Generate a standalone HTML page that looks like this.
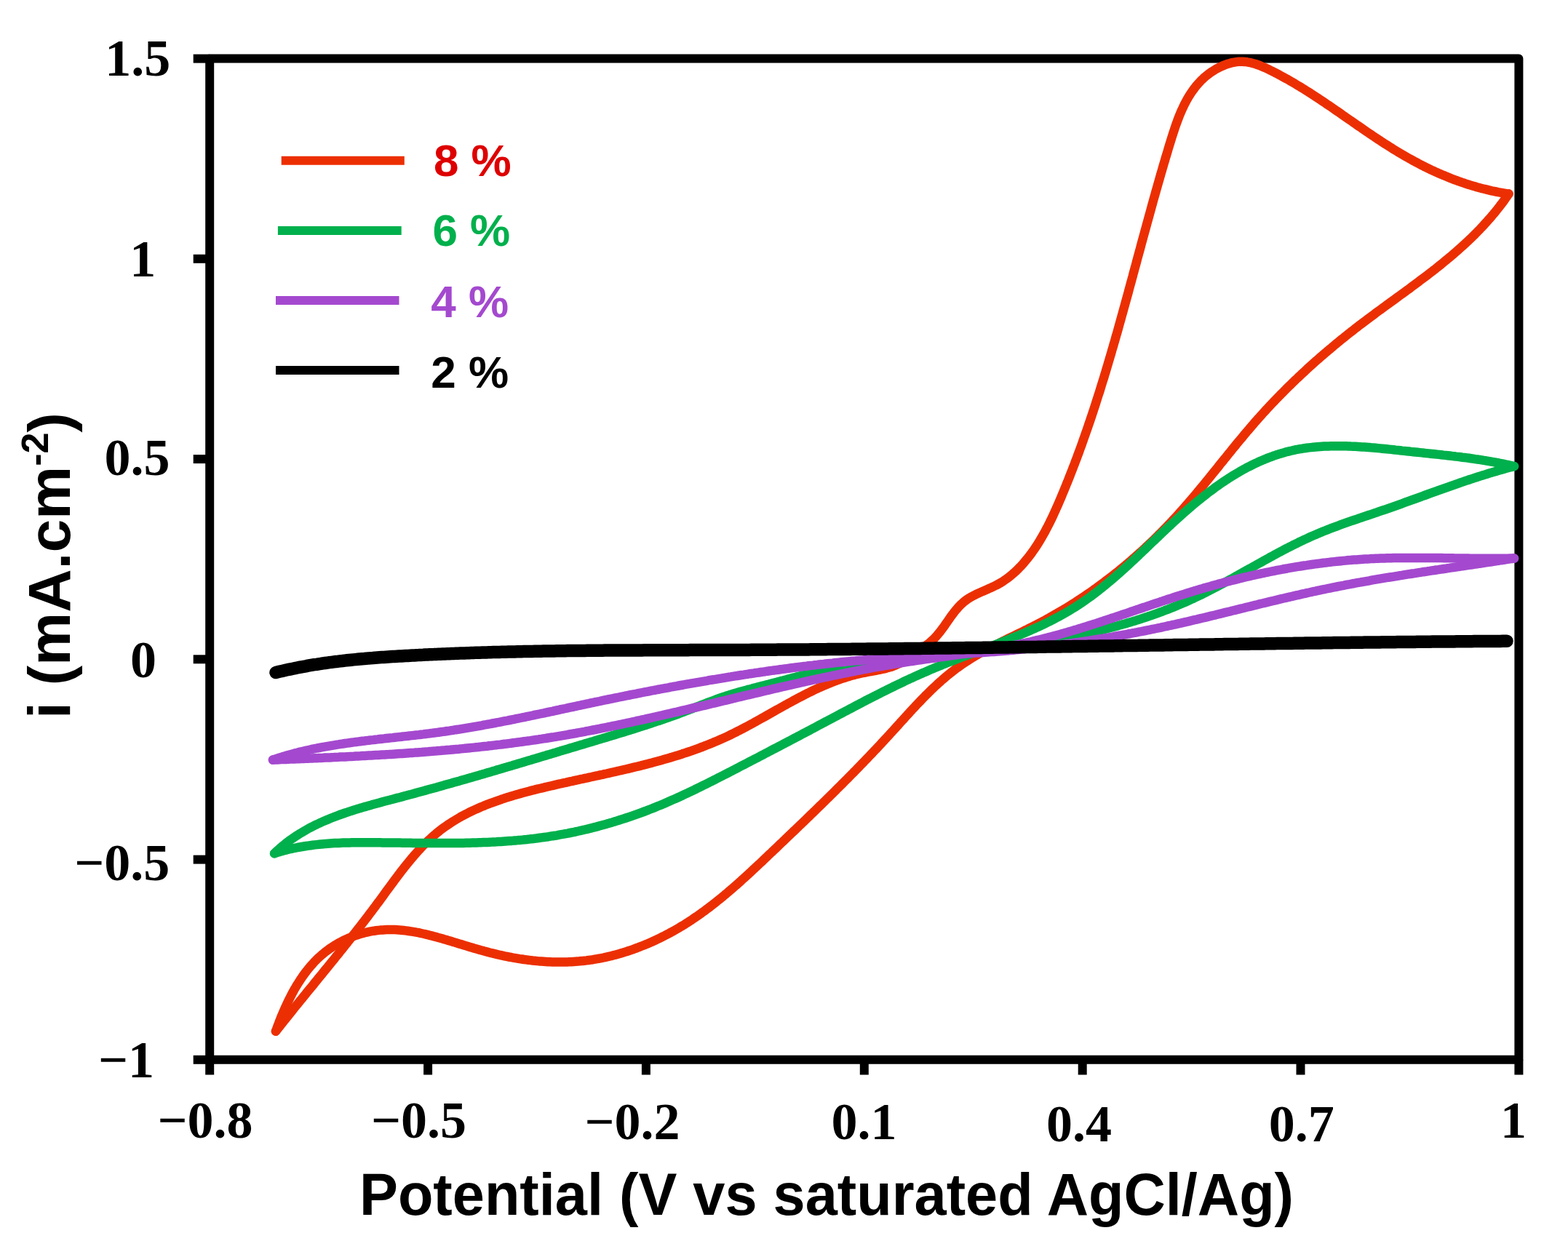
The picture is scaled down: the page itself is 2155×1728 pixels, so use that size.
<!DOCTYPE html>
<html><head><meta charset="utf-8"><title>Cyclic voltammetry</title>
<style>html,body{margin:0;padding:0;background:#fff;}svg{display:block;}</style>
</head><body>
<svg xmlns="http://www.w3.org/2000/svg" width="2155" height="1728" viewBox="0 0 2155 1728">
<rect width="2155" height="1728" fill="#ffffff"/>
<rect x="288.2" y="80.6" width="1799.2" height="1376.2" fill="none" stroke="#000" stroke-width="12" stroke-linejoin="round"/>
<line x1="265.7" y1="80.6" x2="288.2" y2="80.6" stroke="#000" stroke-width="12"/>
<line x1="265.7" y1="355.8" x2="288.2" y2="355.8" stroke="#000" stroke-width="12"/>
<line x1="265.7" y1="631.1" x2="288.2" y2="631.1" stroke="#000" stroke-width="12"/>
<line x1="265.7" y1="906.3" x2="288.2" y2="906.3" stroke="#000" stroke-width="12"/>
<line x1="265.7" y1="1181.6" x2="288.2" y2="1181.6" stroke="#000" stroke-width="12"/>
<line x1="265.7" y1="1456.8" x2="288.2" y2="1456.8" stroke="#000" stroke-width="12"/>
<line x1="288.2" y1="1456.8" x2="288.2" y2="1477.5" stroke="#000" stroke-width="12"/>
<line x1="588.1" y1="1456.8" x2="588.1" y2="1477.5" stroke="#000" stroke-width="12"/>
<line x1="887.9" y1="1456.8" x2="887.9" y2="1477.5" stroke="#000" stroke-width="12"/>
<line x1="1187.8" y1="1456.8" x2="1187.8" y2="1477.5" stroke="#000" stroke-width="12"/>
<line x1="1487.7" y1="1456.8" x2="1487.7" y2="1477.5" stroke="#000" stroke-width="12"/>
<line x1="1787.5" y1="1456.8" x2="1787.5" y2="1477.5" stroke="#000" stroke-width="12"/>
<line x1="2087.4" y1="1456.8" x2="2087.4" y2="1477.5" stroke="#000" stroke-width="12"/>
<g>
<path d="M379.0,1417.7 L380.9,1415.3 L382.8,1412.9 L384.7,1410.5 L386.5,1408.2 L388.4,1405.8 L390.3,1403.4 L392.2,1401.0 L394.1,1398.7 L396.0,1396.3 L397.9,1394.0 L399.8,1391.6 L401.6,1389.3 L403.5,1386.9 L405.4,1384.6 L407.3,1382.2 L409.2,1379.9 L411.1,1377.6 L413.0,1375.2 L414.9,1372.9 L416.8,1370.6 L418.7,1368.3 L420.5,1365.9 L422.4,1363.6 L424.3,1361.3 L426.2,1359.0 L428.1,1356.7 L430.0,1354.4 L431.9,1352.0 L433.7,1349.7 L435.6,1347.4 L437.5,1345.1 L439.4,1342.8 L441.3,1340.5 L443.2,1338.2 L445.0,1335.9 L446.9,1333.5 L448.8,1331.2 L450.7,1328.9 L452.6,1326.6 L454.4,1324.3 L456.3,1322.0 L458.2,1319.7 L460.1,1317.3 L461.9,1315.0 L463.8,1312.7 L465.7,1310.4 L467.5,1308.0 L469.4,1305.7 L471.3,1303.4 L473.1,1301.1 L475.0,1298.7 L476.9,1296.4 L478.7,1294.0 L480.6,1291.7 L482.4,1289.4 L484.3,1287.0 L486.1,1284.7 L488.0,1282.3 L489.8,1279.9 L491.7,1277.6 L493.5,1275.2 L495.4,1272.8 L497.2,1270.4 L499.1,1268.1 L500.9,1265.7 L502.7,1263.3 L504.6,1260.9 L506.4,1258.5 L508.2,1256.1 L510.0,1253.7 L511.9,1251.2 L513.7,1248.8 L515.5,1246.4 L517.3,1243.9 L519.1,1241.5 L521.0,1239.1 L522.8,1236.6 L524.6,1234.1 L526.4,1231.7 L528.2,1229.2 L530.0,1226.7 L531.8,1224.2 L533.6,1221.8 L535.4,1219.3 L537.2,1216.8 L539.0,1214.4 L540.9,1211.9 L542.7,1209.4 L544.5,1207.0 L546.4,1204.5 L548.2,1202.1 L550.1,1199.7 L551.9,1197.2 L553.8,1194.8 L555.7,1192.4 L557.6,1190.1 L559.5,1187.7 L561.4,1185.3 L563.3,1183.0 L565.2,1180.7 L567.2,1178.4 L569.1,1176.1 L571.1,1173.8 L573.1,1171.6 L575.1,1169.4 L577.1,1167.2 L579.2,1165.0 L581.3,1162.8 L583.3,1160.7 L585.4,1158.6 L587.6,1156.6 L589.7,1154.5 L591.9,1152.5 L594.0,1150.6 L596.2,1148.6 L598.5,1146.7 L600.7,1144.8 L603.0,1143.0 L605.3,1141.2 L607.6,1139.4 L610.0,1137.7 L612.4,1136.0 L614.8,1134.3 L617.2,1132.7 L619.6,1131.1 L622.1,1129.5 L624.6,1128.0 L627.1,1126.5 L629.6,1125.0 L632.1,1123.5 L634.7,1122.1 L637.3,1120.7 L639.9,1119.3 L642.5,1118.0 L645.1,1116.7 L647.7,1115.4 L650.4,1114.1 L653.1,1112.9 L655.8,1111.7 L658.5,1110.5 L661.2,1109.3 L664.0,1108.2 L666.7,1107.0 L669.5,1105.9 L672.3,1104.9 L675.1,1103.8 L677.9,1102.8 L680.7,1101.8 L683.5,1100.8 L686.4,1099.8 L689.2,1098.8 L692.1,1097.9 L694.9,1096.9 L697.8,1096.0 L700.7,1095.1 L703.6,1094.3 L706.5,1093.4 L709.4,1092.5 L712.3,1091.7 L715.3,1090.9 L718.2,1090.1 L721.1,1089.3 L724.1,1088.5 L727.0,1087.7 L730.0,1086.9 L732.9,1086.2 L735.9,1085.4 L738.8,1084.7 L741.8,1084.0 L744.8,1083.3 L747.7,1082.6 L750.7,1081.8 L753.7,1081.2 L756.7,1080.5 L759.6,1079.8 L762.6,1079.1 L765.6,1078.4 L768.6,1077.7 L771.5,1077.1 L774.5,1076.4 L777.5,1075.8 L780.4,1075.1 L783.4,1074.4 L786.4,1073.8 L789.3,1073.1 L792.3,1072.5 L795.3,1071.8 L798.2,1071.2 L801.2,1070.6 L804.2,1069.9 L807.1,1069.3 L810.1,1068.6 L813.0,1068.0 L816.0,1067.3 L819.0,1066.7 L821.9,1066.1 L824.9,1065.4 L827.8,1064.8 L830.8,1064.1 L833.7,1063.5 L836.7,1062.8 L839.6,1062.2 L842.5,1061.5 L845.5,1060.8 L848.4,1060.2 L851.3,1059.5 L854.3,1058.8 L857.2,1058.2 L860.1,1057.5 L863.0,1056.8 L866.0,1056.1 L868.9,1055.4 L871.8,1054.7 L874.7,1054.0 L877.6,1053.3 L880.5,1052.6 L883.4,1051.8 L886.3,1051.1 L889.2,1050.4 L892.1,1049.6 L895.0,1048.9 L897.9,1048.1 L900.8,1047.3 L903.7,1046.5 L906.5,1045.7 L909.4,1044.9 L912.3,1044.1 L915.1,1043.3 L918.0,1042.5 L920.8,1041.6 L923.7,1040.8 L926.5,1039.9 L929.4,1039.0 L932.2,1038.2 L935.1,1037.3 L937.9,1036.3 L940.7,1035.4 L943.5,1034.5 L946.4,1033.5 L949.2,1032.6 L952.0,1031.6 L954.8,1030.6 L957.6,1029.6 L960.4,1028.6 L963.1,1027.5 L965.9,1026.5 L968.7,1025.4 L971.5,1024.3 L974.2,1023.2 L977.0,1022.1 L979.8,1021.0 L982.5,1019.8 L985.2,1018.7 L988.0,1017.5 L990.7,1016.3 L993.4,1015.1 L996.2,1013.8 L998.9,1012.6 L1001.6,1011.3 L1004.3,1010.0 L1007.0,1008.7 L1009.7,1007.3 L1012.4,1006.0 L1015.0,1004.6 L1017.7,1003.3 L1020.4,1001.9 L1023.0,1000.5 L1025.7,999.1 L1028.4,997.6 L1031.0,996.2 L1033.7,994.8 L1036.3,993.3 L1039.0,991.9 L1041.6,990.4 L1044.3,988.9 L1046.9,987.4 L1049.6,986.0 L1052.2,984.5 L1054.8,983.0 L1057.5,981.5 L1060.1,980.0 L1062.8,978.5 L1065.4,977.0 L1068.0,975.6 L1070.7,974.1 L1073.3,972.6 L1076.0,971.1 L1078.6,969.6 L1081.3,968.2 L1083.9,966.7 L1086.6,965.3 L1089.2,963.8 L1091.9,962.4 L1094.5,961.0 L1097.2,959.5 L1099.9,958.1 L1102.5,956.8 L1105.2,955.4 L1107.9,954.0 L1110.6,952.7 L1113.3,951.3 L1116.0,950.0 L1118.7,948.7 L1121.4,947.4 L1124.1,946.2 L1126.8,944.9 L1129.6,943.7 L1132.3,942.5 L1135.0,941.4 L1137.8,940.2 L1140.6,939.1 L1143.3,938.0 L1146.1,936.9 L1148.9,935.9 L1151.7,934.8 L1154.5,933.8 L1157.3,932.9 L1160.1,932.0 L1162.9,931.0 L1165.8,930.2 L1168.6,929.3 L1171.5,928.5 L1174.4,927.8 L1177.3,927.0 L1180.2,926.3 L1183.1,925.7 L1186.0,925.0 L1188.9,924.5 L1191.9,923.9 L1194.8,923.4 L1197.8,922.8 L1200.7,922.3 L1203.7,921.8 L1206.6,921.2 L1209.6,920.6 L1212.5,920.0 L1215.4,919.3 L1218.3,918.6 L1221.1,917.8 L1224.0,917.0 L1226.8,916.0 L1229.5,915.0 L1232.2,913.8 L1234.9,912.6 L1237.6,911.2 L1240.2,909.7 L1242.8,908.1 L1245.3,906.5 L1247.9,904.8 L1250.4,903.0 L1252.9,901.2 L1255.4,899.5 L1257.9,897.7 L1260.5,895.9 L1263.0,894.2 L1265.5,892.4 L1268.1,890.7 L1270.5,888.9 L1273.0,887.1 L1275.4,885.3 L1277.8,883.4 L1280.0,881.4 L1282.2,879.4 L1284.4,877.3 L1286.4,875.1 L1288.4,872.8 L1290.3,870.5 L1292.2,868.2 L1294.0,865.8 L1295.8,863.3 L1297.6,860.9 L1299.3,858.4 L1301.1,855.9 L1302.8,853.5 L1304.5,851.0 L1306.2,848.5 L1308.0,846.1 L1309.8,843.7 L1311.6,841.3 L1313.4,839.0 L1315.3,836.8 L1317.2,834.6 L1319.2,832.5 L1321.3,830.4 L1323.5,828.5 L1325.7,826.6 L1328.0,824.9 L1330.4,823.2 L1332.9,821.7 L1335.4,820.2 L1338.1,818.8 L1340.7,817.4 L1343.4,816.1 L1346.2,814.8 L1348.9,813.6 L1351.7,812.4 L1354.5,811.2 L1357.3,810.0 L1360.1,808.7 L1362.9,807.5 L1365.7,806.2 L1368.4,804.8 L1371.1,803.5 L1373.7,802.0 L1376.3,800.5 L1378.8,798.9 L1381.3,797.2 L1383.7,795.5 L1386.1,793.7 L1388.4,791.9 L1390.7,790.0 L1392.9,788.1 L1395.1,786.1 L1397.3,784.1 L1399.4,782.0 L1401.4,779.9 L1403.5,777.8 L1405.5,775.6 L1407.4,773.4 L1409.3,771.1 L1411.2,768.8 L1413.1,766.5 L1414.9,764.2 L1416.7,761.8 L1418.4,759.4 L1420.1,757.0 L1421.8,754.6 L1423.5,752.1 L1425.1,749.6 L1426.7,747.1 L1428.3,744.5 L1429.8,742.0 L1431.3,739.4 L1432.8,736.8 L1434.3,734.2 L1435.8,731.6 L1437.2,728.9 L1438.6,726.2 L1440.0,723.6 L1441.4,720.9 L1442.7,718.2 L1444.1,715.4 L1445.4,712.7 L1446.7,710.0 L1448.0,707.2 L1449.2,704.5 L1450.5,701.7 L1451.7,698.9 L1453.0,696.1 L1454.2,693.4 L1455.4,690.6 L1456.6,687.8 L1457.8,685.0 L1459.0,682.2 L1460.1,679.4 L1461.3,676.6 L1462.5,673.8 L1463.6,671.0 L1464.8,668.1 L1465.9,665.3 L1467.1,662.5 L1468.2,659.7 L1469.3,656.9 L1470.4,654.1 L1471.5,651.3 L1472.6,648.5 L1473.7,645.7 L1474.8,642.8 L1475.9,640.0 L1477.0,637.2 L1478.0,634.4 L1479.1,631.6 L1480.2,628.8 L1481.2,625.9 L1482.3,623.1 L1483.3,620.3 L1484.3,617.5 L1485.4,614.6 L1486.4,611.8 L1487.4,609.0 L1488.4,606.2 L1489.4,603.3 L1490.4,600.5 L1491.4,597.7 L1492.4,594.8 L1493.4,592.0 L1494.4,589.2 L1495.4,586.3 L1496.3,583.5 L1497.3,580.6 L1498.3,577.8 L1499.2,575.0 L1500.2,572.1 L1501.1,569.3 L1502.1,566.4 L1503.0,563.6 L1503.9,560.8 L1504.9,557.9 L1505.8,555.1 L1506.7,552.2 L1507.6,549.4 L1508.5,546.5 L1509.4,543.7 L1510.4,540.8 L1511.3,538.0 L1512.2,535.1 L1513.0,532.3 L1513.9,529.4 L1514.8,526.5 L1515.7,523.7 L1516.6,520.8 L1517.5,518.0 L1518.3,515.1 L1519.2,512.3 L1520.1,509.4 L1520.9,506.5 L1521.8,503.7 L1522.6,500.8 L1523.5,497.9 L1524.3,495.1 L1525.2,492.2 L1526.0,489.3 L1526.9,486.5 L1527.7,483.6 L1528.5,480.7 L1529.4,477.9 L1530.2,475.0 L1531.0,472.1 L1531.9,469.3 L1532.7,466.4 L1533.5,463.5 L1534.3,460.6 L1535.2,457.8 L1536.0,454.9 L1536.8,452.0 L1537.6,449.1 L1538.4,446.2 L1539.2,443.4 L1540.0,440.5 L1540.8,437.6 L1541.6,434.7 L1542.4,431.8 L1543.2,429.0 L1544.0,426.1 L1544.8,423.2 L1545.6,420.3 L1546.4,417.4 L1547.2,414.5 L1548.0,411.6 L1548.8,408.8 L1549.6,405.9 L1550.4,403.0 L1551.2,400.1 L1551.9,397.2 L1552.7,394.3 L1553.5,391.4 L1554.3,388.5 L1555.1,385.6 L1555.9,382.7 L1556.7,379.8 L1557.4,376.9 L1558.2,374.0 L1559.0,371.1 L1559.8,368.2 L1560.6,365.3 L1561.4,362.4 L1562.2,359.5 L1562.9,356.6 L1563.7,353.7 L1564.5,350.8 L1565.3,347.9 L1566.1,345.0 L1566.9,342.1 L1567.7,339.2 L1568.4,336.3 L1569.2,333.4 L1570.0,330.5 L1570.8,327.6 L1571.6,324.7 L1572.4,321.8 L1573.2,318.9 L1574.0,316.0 L1574.8,313.1 L1575.6,310.1 L1576.4,307.2 L1577.2,304.3 L1578.0,301.4 L1578.8,298.5 L1579.6,295.6 L1580.4,292.7 L1581.2,289.8 L1582.0,286.8 L1582.8,283.9 L1583.6,281.0 L1584.4,278.1 L1585.2,275.2 L1586.0,272.3 L1586.9,269.3 L1587.7,266.4 L1588.5,263.5 L1589.3,260.6 L1590.2,257.7 L1591.0,254.7 L1591.8,251.8 L1592.7,248.9 L1593.5,246.0 L1594.3,243.1 L1595.2,240.1 L1596.0,237.2 L1596.9,234.3 L1597.7,231.4 L1598.6,228.4 L1599.4,225.5 L1600.3,222.6 L1601.2,219.7 L1602.0,216.7 L1602.9,213.8 L1603.8,210.9 L1604.7,208.0 L1605.5,205.0 L1606.4,202.1 L1607.3,199.2 L1608.2,196.2 L1609.1,193.3 L1610.0,190.4 L1610.9,187.5 L1611.9,184.5 L1612.8,181.6 L1613.8,178.7 L1614.7,175.9 L1615.7,173.0 L1616.7,170.1 L1617.8,167.3 L1618.8,164.4 L1619.9,161.6 L1621.0,158.8 L1622.1,156.1 L1623.3,153.3 L1624.5,150.6 L1625.8,147.9 L1627.0,145.2 L1628.3,142.6 L1629.7,140.0 L1631.1,137.4 L1632.5,134.9 L1634.0,132.4 L1635.6,129.9 L1637.1,127.5 L1638.8,125.1 L1640.5,122.8 L1642.2,120.5 L1644.0,118.2 L1645.9,116.0 L1647.8,113.9 L1649.8,111.7 L1651.8,109.7 L1653.9,107.7 L1656.1,105.7 L1658.4,103.8 L1660.7,102.0 L1663.1,100.2 L1665.6,98.5 L1668.1,96.9 L1670.7,95.3 L1673.4,93.8 L1676.2,92.4 L1678.9,91.1 L1681.8,89.9 L1684.6,88.7 L1687.5,87.8 L1690.5,86.9 L1693.4,86.2 L1696.4,85.6 L1699.3,85.1 L1702.3,84.8 L1705.3,84.7 L1708.2,84.7 L1711.1,84.9 L1714.1,85.3 L1717.0,85.8 L1719.8,86.4 L1722.7,87.2 L1725.6,88.0 L1728.4,89.0 L1731.3,90.0 L1734.1,91.2 L1736.9,92.4 L1739.7,93.6 L1742.5,94.9 L1745.2,96.3 L1748.0,97.6 L1750.7,99.0 L1753.4,100.4 L1756.1,101.8 L1758.8,103.3 L1761.5,104.7 L1764.2,106.2 L1766.9,107.7 L1769.5,109.1 L1772.2,110.6 L1774.8,112.2 L1777.4,113.7 L1780.0,115.2 L1782.6,116.8 L1785.2,118.3 L1787.8,119.9 L1790.4,121.5 L1792.9,123.1 L1795.5,124.7 L1798.0,126.3 L1800.6,127.9 L1803.1,129.6 L1805.6,131.2 L1808.1,132.9 L1810.7,134.5 L1813.2,136.2 L1815.7,137.8 L1818.2,139.5 L1820.7,141.2 L1823.1,142.9 L1825.6,144.5 L1828.1,146.2 L1830.6,147.9 L1833.1,149.6 L1835.5,151.3 L1838.0,153.0 L1840.5,154.7 L1842.9,156.4 L1845.4,158.2 L1847.8,159.9 L1850.3,161.6 L1852.8,163.3 L1855.2,165.0 L1857.7,166.7 L1860.1,168.4 L1862.6,170.1 L1865.0,171.8 L1867.5,173.5 L1870.0,175.2 L1872.4,176.9 L1874.9,178.6 L1877.4,180.3 L1879.8,182.0 L1882.3,183.7 L1884.8,185.3 L1887.2,187.0 L1889.7,188.7 L1892.2,190.3 L1894.7,192.0 L1897.2,193.6 L1899.7,195.3 L1902.2,196.9 L1904.7,198.5 L1907.2,200.1 L1909.8,201.7 L1912.3,203.3 L1914.8,204.9 L1917.4,206.5 L1919.9,208.0 L1922.5,209.6 L1925.1,211.1 L1927.7,212.6 L1930.2,214.1 L1932.8,215.6 L1935.5,217.1 L1938.1,218.6 L1940.7,220.0 L1943.3,221.5 L1946.0,222.9 L1948.6,224.3 L1951.3,225.7 L1954.0,227.1 L1956.7,228.5 L1959.4,229.8 L1962.1,231.1 L1964.8,232.5 L1967.6,233.8 L1970.3,235.0 L1973.1,236.3 L1975.8,237.5 L1978.6,238.8 L1981.4,240.0 L1984.2,241.1 L1987.0,242.3 L1989.8,243.4 L1992.6,244.6 L1995.4,245.7 L1998.3,246.8 L2001.1,247.8 L2003.9,248.9 L2006.8,249.9 L2009.6,250.9 L2012.5,251.8 L2015.4,252.8 L2018.2,253.7 L2021.1,254.6 L2024.0,255.5 L2026.9,256.3 L2029.8,257.2 L2032.7,258.0 L2035.6,258.8 L2038.5,259.5 L2041.4,260.2 L2044.3,260.9 L2047.2,261.6 L2050.1,262.3 L2053.0,262.9 L2056.0,263.5 L2058.9,264.1 L2061.8,264.6 L2064.7,265.1 L2067.6,265.6 L2070.6,266.1 L2073.5,266.5" fill="none" stroke="#EC2F03" stroke-width="12.5" stroke-linecap="round" stroke-linejoin="round"/>
<path d="M2073.5,266.5 L2071.8,269.0 L2070.0,271.5 L2068.3,274.0 L2066.5,276.5 L2064.7,278.9 L2062.8,281.4 L2061.0,283.8 L2059.1,286.2 L2057.3,288.5 L2055.4,290.9 L2053.5,293.2 L2051.5,295.5 L2049.6,297.8 L2047.6,300.1 L2045.6,302.3 L2043.6,304.6 L2041.6,306.8 L2039.6,309.0 L2037.6,311.2 L2035.5,313.4 L2033.5,315.6 L2031.4,317.7 L2029.3,319.8 L2027.2,322.0 L2025.1,324.1 L2022.9,326.2 L2020.8,328.2 L2018.6,330.3 L2016.4,332.3 L2014.3,334.4 L2012.1,336.4 L2009.9,338.4 L2007.6,340.4 L2005.4,342.4 L2003.2,344.4 L2000.9,346.4 L1998.7,348.3 L1996.4,350.3 L1994.1,352.2 L1991.8,354.1 L1989.5,356.0 L1987.2,357.9 L1984.9,359.8 L1982.6,361.7 L1980.3,363.6 L1977.9,365.5 L1975.6,367.3 L1973.3,369.2 L1970.9,371.1 L1968.5,372.9 L1966.2,374.7 L1963.8,376.6 L1961.4,378.4 L1959.0,380.2 L1956.6,382.0 L1954.2,383.8 L1951.8,385.6 L1949.4,387.4 L1947.0,389.2 L1944.6,391.0 L1942.2,392.8 L1939.8,394.6 L1937.4,396.4 L1935.0,398.2 L1932.5,399.9 L1930.1,401.7 L1927.7,403.5 L1925.2,405.3 L1922.8,407.0 L1920.4,408.8 L1917.9,410.6 L1915.5,412.4 L1913.1,414.1 L1910.6,415.9 L1908.2,417.7 L1905.8,419.4 L1903.3,421.2 L1900.9,423.0 L1898.5,424.8 L1896.1,426.5 L1893.6,428.3 L1891.2,430.1 L1888.8,431.9 L1886.4,433.7 L1884.0,435.5 L1881.6,437.3 L1879.1,439.1 L1876.7,440.9 L1874.3,442.7 L1872.0,444.5 L1869.6,446.3 L1867.2,448.1 L1864.8,450.0 L1862.4,451.8 L1860.1,453.7 L1857.7,455.5 L1855.3,457.4 L1853.0,459.2 L1850.6,461.1 L1848.3,463.0 L1846.0,464.8 L1843.6,466.7 L1841.3,468.6 L1839.0,470.5 L1836.7,472.4 L1834.4,474.3 L1832.1,476.2 L1829.8,478.2 L1827.5,480.1 L1825.2,482.0 L1822.9,484.0 L1820.6,485.9 L1818.4,487.9 L1816.1,489.8 L1813.8,491.8 L1811.6,493.8 L1809.3,495.7 L1807.1,497.7 L1804.9,499.7 L1802.6,501.7 L1800.4,503.7 L1798.2,505.7 L1796.0,507.7 L1793.8,509.8 L1791.6,511.8 L1789.4,513.8 L1787.2,515.9 L1785.1,517.9 L1782.9,520.0 L1780.7,522.0 L1778.6,524.1 L1776.4,526.2 L1774.3,528.3 L1772.1,530.3 L1770.0,532.4 L1767.9,534.5 L1765.8,536.7 L1763.7,538.8 L1761.6,540.9 L1759.5,543.0 L1757.4,545.2 L1755.3,547.3 L1753.2,549.5 L1751.2,551.6 L1749.1,553.8 L1747.0,556.0 L1745.0,558.1 L1743.0,560.3 L1740.9,562.5 L1738.9,564.7 L1736.9,566.9 L1734.9,569.1 L1732.9,571.4 L1730.9,573.6 L1728.9,575.8 L1726.9,578.1 L1724.9,580.3 L1723.0,582.6 L1721.0,584.9 L1719.1,587.1 L1717.1,589.4 L1715.2,591.7 L1713.2,594.0 L1711.3,596.3 L1709.4,598.6 L1707.5,600.9 L1705.6,603.2 L1703.6,605.5 L1701.7,607.8 L1699.8,610.1 L1697.9,612.5 L1696.0,614.8 L1694.1,617.1 L1692.2,619.4 L1690.3,621.8 L1688.4,624.1 L1686.6,626.4 L1684.7,628.8 L1682.8,631.1 L1680.9,633.5 L1679.0,635.8 L1677.1,638.1 L1675.2,640.5 L1673.4,642.8 L1671.5,645.2 L1669.6,647.5 L1667.7,649.8 L1665.8,652.2 L1663.9,654.5 L1662.0,656.9 L1660.1,659.2 L1658.2,661.5 L1656.3,663.9 L1654.4,666.2 L1652.5,668.5 L1650.6,670.8 L1648.7,673.1 L1646.7,675.4 L1644.8,677.8 L1642.9,680.1 L1640.9,682.4 L1639.0,684.7 L1637.0,686.9 L1635.1,689.2 L1633.1,691.5 L1631.2,693.8 L1629.2,696.0 L1627.2,698.3 L1625.2,700.6 L1623.2,702.8 L1621.2,705.0 L1619.2,707.3 L1617.2,709.5 L1615.1,711.7 L1613.1,713.9 L1611.0,716.1 L1609.0,718.3 L1606.9,720.5 L1604.9,722.7 L1602.8,724.8 L1600.7,727.0 L1598.6,729.1 L1596.5,731.3 L1594.3,733.4 L1592.2,735.5 L1590.1,737.7 L1587.9,739.8 L1585.8,741.9 L1583.6,744.0 L1581.5,746.0 L1579.3,748.1 L1577.1,750.2 L1574.9,752.2 L1572.7,754.3 L1570.5,756.3 L1568.3,758.3 L1566.0,760.3 L1563.8,762.4 L1561.5,764.3 L1559.3,766.3 L1557.0,768.3 L1554.8,770.3 L1552.5,772.2 L1550.2,774.2 L1547.9,776.1 L1545.6,778.1 L1543.3,780.0 L1541.0,781.9 L1538.6,783.8 L1536.3,785.7 L1534.0,787.6 L1531.6,789.4 L1529.2,791.3 L1526.9,793.1 L1524.5,795.0 L1522.1,796.8 L1519.7,798.6 L1517.3,800.4 L1514.9,802.2 L1512.5,804.0 L1510.1,805.8 L1507.7,807.6 L1505.2,809.3 L1502.8,811.1 L1500.3,812.8 L1497.9,814.5 L1495.4,816.2 L1492.9,817.9 L1490.4,819.6 L1487.9,821.3 L1485.4,822.9 L1482.9,824.6 L1480.4,826.2 L1477.9,827.9 L1475.4,829.5 L1472.8,831.1 L1470.3,832.7 L1467.7,834.3 L1465.2,835.9 L1462.6,837.4 L1460.0,839.0 L1457.4,840.5 L1454.8,842.0 L1452.2,843.5 L1449.6,845.0 L1447.0,846.5 L1444.4,848.0 L1441.8,849.5 L1439.1,850.9 L1436.5,852.4 L1433.9,853.8 L1431.2,855.2 L1428.5,856.6 L1425.9,858.0 L1423.2,859.4 L1420.5,860.7 L1417.8,862.1 L1415.1,863.4 L1412.4,864.8 L1409.7,866.1 L1407.1,867.5 L1404.3,868.8 L1401.6,870.1 L1398.9,871.4 L1396.2,872.7 L1393.5,874.1 L1390.8,875.4 L1388.1,876.7 L1385.4,878.0 L1382.7,879.3 L1380.1,880.7 L1377.4,882.0 L1374.7,883.3 L1372.0,884.7 L1369.4,886.0 L1366.7,887.4 L1364.0,888.8 L1361.4,890.1 L1358.8,891.5 L1356.1,892.9 L1353.5,894.4 L1350.9,895.8 L1348.3,897.2 L1345.7,898.7 L1343.2,900.2 L1340.6,901.7 L1338.1,903.2 L1335.5,904.7 L1333.0,906.3 L1330.5,907.9 L1328.0,909.5 L1325.6,911.1 L1323.1,912.7 L1320.7,914.4 L1318.3,916.1 L1315.9,917.8 L1313.5,919.6 L1311.2,921.4 L1308.8,923.2 L1306.5,925.0 L1304.2,926.9 L1301.9,928.7 L1299.6,930.6 L1297.4,932.6 L1295.1,934.5 L1292.9,936.5 L1290.7,938.4 L1288.5,940.4 L1286.3,942.5 L1284.1,944.5 L1282.0,946.5 L1279.8,948.6 L1277.7,950.7 L1275.6,952.8 L1273.4,954.9 L1271.3,957.0 L1269.2,959.2 L1267.1,961.3 L1265.1,963.5 L1263.0,965.6 L1260.9,967.8 L1258.8,970.0 L1256.8,972.2 L1254.7,974.4 L1252.7,976.6 L1250.6,978.8 L1248.6,981.1 L1246.6,983.3 L1244.5,985.5 L1242.5,987.8 L1240.5,990.0 L1238.4,992.2 L1236.4,994.5 L1234.4,996.7 L1232.3,999.0 L1230.3,1001.2 L1228.3,1003.5 L1226.2,1005.7 L1224.2,1007.9 L1222.2,1010.2 L1220.1,1012.4 L1218.1,1014.6 L1216.0,1016.8 L1214.0,1019.0 L1211.9,1021.3 L1209.9,1023.5 L1207.8,1025.7 L1205.8,1027.9 L1203.7,1030.1 L1201.6,1032.2 L1199.6,1034.4 L1197.5,1036.6 L1195.4,1038.8 L1193.3,1041.0 L1191.3,1043.1 L1189.2,1045.3 L1187.1,1047.5 L1185.0,1049.6 L1182.9,1051.8 L1180.8,1054.0 L1178.7,1056.1 L1176.6,1058.3 L1174.5,1060.4 L1172.4,1062.6 L1170.3,1064.7 L1168.2,1066.8 L1166.1,1069.0 L1164.0,1071.1 L1161.9,1073.2 L1159.7,1075.4 L1157.6,1077.5 L1155.5,1079.6 L1153.4,1081.7 L1151.2,1083.8 L1149.1,1086.0 L1147.0,1088.1 L1144.9,1090.2 L1142.7,1092.3 L1140.6,1094.4 L1138.5,1096.5 L1136.3,1098.6 L1134.2,1100.7 L1132.0,1102.8 L1129.9,1104.9 L1127.7,1107.0 L1125.6,1109.1 L1123.4,1111.2 L1121.3,1113.3 L1119.1,1115.4 L1117.0,1117.5 L1114.8,1119.6 L1112.7,1121.6 L1110.5,1123.7 L1108.4,1125.8 L1106.2,1127.9 L1104.1,1130.0 L1101.9,1132.1 L1099.7,1134.1 L1097.6,1136.2 L1095.4,1138.3 L1093.2,1140.4 L1091.1,1142.4 L1088.9,1144.5 L1086.7,1146.6 L1084.6,1148.7 L1082.4,1150.7 L1080.2,1152.8 L1078.0,1154.9 L1075.9,1157.0 L1073.7,1159.0 L1071.5,1161.1 L1069.4,1163.2 L1067.2,1165.3 L1065.0,1167.3 L1062.8,1169.4 L1060.7,1171.5 L1058.5,1173.5 L1056.3,1175.6 L1054.1,1177.7 L1051.9,1179.8 L1049.8,1181.8 L1047.6,1183.9 L1045.4,1186.0 L1043.2,1188.0 L1041.0,1190.1 L1038.8,1192.1 L1036.6,1194.2 L1034.4,1196.2 L1032.2,1198.3 L1030.0,1200.3 L1027.8,1202.4 L1025.6,1204.4 L1023.4,1206.4 L1021.1,1208.4 L1018.9,1210.4 L1016.7,1212.5 L1014.4,1214.5 L1012.2,1216.4 L1009.9,1218.4 L1007.7,1220.4 L1005.4,1222.4 L1003.1,1224.3 L1000.8,1226.3 L998.5,1228.2 L996.2,1230.1 L993.9,1232.1 L991.6,1234.0 L989.3,1235.9 L987.0,1237.7 L984.6,1239.6 L982.3,1241.5 L979.9,1243.3 L977.5,1245.2 L975.2,1247.0 L972.8,1248.8 L970.4,1250.6 L968.0,1252.4 L965.5,1254.1 L963.1,1255.9 L960.7,1257.6 L958.2,1259.3 L955.7,1261.0 L953.3,1262.7 L950.8,1264.4 L948.3,1266.0 L945.7,1267.7 L943.2,1269.3 L940.7,1270.9 L938.1,1272.5 L935.5,1274.0 L932.9,1275.6 L930.3,1277.1 L927.7,1278.6 L925.1,1280.1 L922.4,1281.5 L919.8,1283.0 L917.1,1284.4 L914.4,1285.8 L911.7,1287.2 L909.0,1288.5 L906.3,1289.9 L903.6,1291.2 L900.8,1292.5 L898.1,1293.7 L895.3,1295.0 L892.5,1296.2 L889.7,1297.4 L886.9,1298.6 L884.1,1299.7 L881.3,1300.8 L878.5,1301.9 L875.7,1303.0 L872.8,1304.0 L870.0,1305.1 L867.1,1306.1 L864.3,1307.0 L861.4,1308.0 L858.5,1308.9 L855.7,1309.8 L852.8,1310.6 L849.9,1311.5 L847.0,1312.3 L844.1,1313.0 L841.2,1313.8 L838.3,1314.5 L835.4,1315.2 L832.4,1315.8 L829.5,1316.5 L826.6,1317.1 L823.7,1317.6 L820.7,1318.2 L817.8,1318.7 L814.9,1319.2 L811.9,1319.6 L809.0,1320.0 L806.0,1320.4 L803.1,1320.7 L800.1,1321.1 L797.2,1321.3 L794.2,1321.6 L791.3,1321.8 L788.3,1322.0 L785.4,1322.2 L782.4,1322.3 L779.5,1322.4 L776.5,1322.5 L773.6,1322.6 L770.6,1322.6 L767.6,1322.6 L764.7,1322.6 L761.7,1322.5 L758.8,1322.4 L755.8,1322.3 L752.8,1322.2 L749.9,1322.0 L746.9,1321.8 L743.9,1321.6 L741.0,1321.4 L738.0,1321.1 L735.0,1320.8 L732.1,1320.5 L729.1,1320.1 L726.1,1319.8 L723.2,1319.4 L720.2,1319.0 L717.2,1318.5 L714.2,1318.1 L711.3,1317.6 L708.3,1317.1 L705.3,1316.6 L702.4,1316.0 L699.4,1315.5 L696.4,1314.9 L693.5,1314.3 L690.5,1313.6 L687.5,1313.0 L684.5,1312.3 L681.6,1311.6 L678.6,1310.9 L675.6,1310.2 L672.7,1309.4 L669.7,1308.6 L666.7,1307.9 L663.8,1307.0 L660.8,1306.2 L657.8,1305.4 L654.9,1304.5 L651.9,1303.7 L649.0,1302.8 L646.0,1301.9 L643.0,1301.0 L640.1,1300.1 L637.1,1299.2 L634.2,1298.3 L631.2,1297.4 L628.2,1296.5 L625.3,1295.6 L622.3,1294.7 L619.4,1293.8 L616.4,1292.9 L613.5,1292.0 L610.5,1291.2 L607.6,1290.3 L604.6,1289.5 L601.7,1288.7 L598.7,1287.8 L595.8,1287.1 L592.9,1286.3 L589.9,1285.6 L587.0,1284.8 L584.0,1284.1 L581.1,1283.5 L578.2,1282.9 L575.2,1282.2 L572.3,1281.7 L569.4,1281.1 L566.4,1280.6 L563.5,1280.2 L560.6,1279.8 L557.6,1279.4 L554.7,1279.0 L551.8,1278.7 L548.9,1278.5 L545.9,1278.3 L543.0,1278.1 L540.1,1278.0 L537.2,1278.0 L534.3,1278.0 L531.3,1278.1 L528.4,1278.2 L525.5,1278.4 L522.6,1278.6 L519.7,1278.9 L516.8,1279.3 L513.9,1279.7 L511.0,1280.2 L508.2,1280.7 L505.3,1281.3 L502.4,1282.0 L499.6,1282.7 L496.7,1283.5 L493.9,1284.3 L491.1,1285.2 L488.3,1286.1 L485.5,1287.1 L482.8,1288.2 L480.1,1289.3 L477.4,1290.5 L474.7,1291.7 L472.0,1293.0 L469.4,1294.3 L466.7,1295.7 L464.2,1297.2 L461.6,1298.7 L459.1,1300.2 L456.6,1301.8 L454.1,1303.5 L451.7,1305.2 L449.3,1307.0 L446.9,1308.8 L444.6,1310.7 L442.3,1312.6 L440.0,1314.6 L437.8,1316.6 L435.6,1318.7 L433.5,1320.8 L431.4,1323.0 L429.4,1325.3 L427.4,1327.5 L425.4,1329.8 L423.5,1332.2 L421.6,1334.6 L419.7,1337.0 L417.9,1339.5 L416.1,1342.0 L414.4,1344.5 L412.6,1347.1 L411.0,1349.7 L409.3,1352.3 L407.7,1354.9 L406.1,1357.6 L404.6,1360.2 L403.1,1362.9 L401.6,1365.6 L400.2,1368.4 L398.8,1371.1 L397.4,1373.9 L396.0,1376.6 L394.7,1379.4 L393.4,1382.1 L392.1,1384.9 L390.9,1387.7 L389.7,1390.5 L388.5,1393.2 L387.3,1396.0 L386.2,1398.7 L385.1,1401.5 L384.0,1404.2 L383.0,1407.0 L381.9,1409.7 L380.9,1412.4 L380.0,1415.0 L379.0,1417.7" fill="none" stroke="#EC2F03" stroke-width="12.5" stroke-linecap="round" stroke-linejoin="round"/>
<path d="M377.1,1173.2 L379.3,1171.1 L381.5,1169.0 L383.7,1167.0 L386.0,1165.0 L388.3,1163.1 L390.6,1161.2 L392.9,1159.3 L395.3,1157.5 L397.6,1155.7 L400.0,1154.0 L402.4,1152.3 L404.9,1150.6 L407.3,1149.0 L409.8,1147.4 L412.3,1145.8 L414.9,1144.3 L417.4,1142.8 L420.0,1141.3 L422.5,1139.9 L425.1,1138.4 L427.7,1137.1 L430.4,1135.7 L433.0,1134.4 L435.7,1133.1 L438.4,1131.9 L441.1,1130.6 L443.8,1129.4 L446.5,1128.2 L449.2,1127.1 L452.0,1125.9 L454.7,1124.8 L457.5,1123.7 L460.3,1122.6 L463.1,1121.6 L465.9,1120.5 L468.7,1119.5 L471.6,1118.5 L474.4,1117.5 L477.3,1116.6 L480.1,1115.6 L483.0,1114.7 L485.9,1113.8 L488.7,1112.9 L491.6,1112.0 L494.5,1111.1 L497.4,1110.3 L500.3,1109.4 L503.3,1108.6 L506.2,1107.7 L509.1,1106.9 L512.0,1106.1 L515.0,1105.3 L517.9,1104.5 L520.8,1103.7 L523.8,1102.9 L526.7,1102.1 L529.6,1101.3 L532.6,1100.5 L535.5,1099.8 L538.5,1099.0 L541.4,1098.2 L544.4,1097.4 L547.3,1096.7 L550.2,1095.9 L553.2,1095.1 L556.1,1094.3 L559.1,1093.5 L562.0,1092.7 L564.9,1092.0 L567.8,1091.2 L570.8,1090.4 L573.7,1089.6 L576.6,1088.8 L579.5,1088.0 L582.4,1087.2 L585.4,1086.4 L588.3,1085.6 L591.2,1084.8 L594.1,1084.0 L597.0,1083.2 L599.9,1082.4 L602.8,1081.6 L605.7,1080.7 L608.6,1079.9 L611.5,1079.1 L614.4,1078.3 L617.3,1077.5 L620.2,1076.7 L623.1,1075.8 L626.0,1075.0 L628.9,1074.2 L631.8,1073.4 L634.7,1072.5 L637.6,1071.7 L640.5,1070.9 L643.3,1070.1 L646.2,1069.2 L649.1,1068.4 L652.0,1067.6 L654.9,1066.7 L657.8,1065.9 L660.6,1065.1 L663.5,1064.2 L666.4,1063.4 L669.3,1062.5 L672.1,1061.7 L675.0,1060.9 L677.9,1060.0 L680.8,1059.2 L683.6,1058.3 L686.5,1057.5 L689.4,1056.6 L692.3,1055.8 L695.1,1054.9 L698.0,1054.1 L700.9,1053.2 L703.8,1052.4 L706.6,1051.5 L709.5,1050.7 L712.4,1049.8 L715.2,1049.0 L718.1,1048.1 L721.0,1047.3 L723.8,1046.4 L726.7,1045.5 L729.6,1044.7 L732.5,1043.8 L735.3,1043.0 L738.2,1042.1 L741.1,1041.3 L743.9,1040.4 L746.8,1039.5 L749.7,1038.7 L752.5,1037.8 L755.4,1037.0 L758.3,1036.1 L761.2,1035.2 L764.0,1034.4 L766.9,1033.5 L769.8,1032.6 L772.6,1031.8 L775.5,1030.9 L778.4,1030.1 L781.3,1029.2 L784.1,1028.3 L787.0,1027.5 L789.9,1026.6 L792.8,1025.8 L795.7,1024.9 L798.5,1024.0 L801.4,1023.2 L804.3,1022.3 L807.2,1021.4 L810.1,1020.6 L812.9,1019.7 L815.8,1018.9 L818.7,1018.0 L821.6,1017.1 L824.5,1016.3 L827.4,1015.4 L830.3,1014.5 L833.1,1013.7 L836.0,1012.8 L838.9,1011.9 L841.8,1011.1 L844.7,1010.2 L847.6,1009.3 L850.5,1008.4 L853.3,1007.5 L856.2,1006.7 L859.1,1005.8 L862.0,1004.9 L864.9,1004.0 L867.7,1003.1 L870.6,1002.2 L873.5,1001.3 L876.4,1000.4 L879.2,999.4 L882.1,998.5 L885.0,997.6 L887.8,996.7 L890.7,995.7 L893.6,994.8 L896.4,993.8 L899.3,992.9 L902.1,991.9 L905.0,991.0 L907.8,990.0 L910.7,989.0 L913.5,988.0 L916.4,987.1 L919.2,986.1 L922.0,985.0 L924.9,984.0 L927.7,983.0 L930.5,982.0 L933.3,981.0 L936.1,979.9 L939.0,978.9 L941.8,977.8 L944.6,976.7 L947.4,975.6 L950.2,974.6 L953.0,973.5 L955.8,972.4 L958.5,971.3 L961.3,970.2 L964.1,969.1 L966.9,968.1 L969.7,967.0 L972.5,965.9 L975.3,964.8 L978.1,963.8 L980.9,962.8 L983.7,961.7 L986.5,960.7 L989.3,959.7 L992.2,958.7 L995.0,957.8 L997.8,956.8 L1000.7,955.9 L1003.5,955.0 L1006.4,954.1 L1009.2,953.3 L1012.1,952.4 L1015.0,951.6 L1017.8,950.8 L1020.7,950.0 L1023.6,949.2 L1026.5,948.4 L1029.4,947.7 L1032.3,946.9 L1035.2,946.1 L1038.1,945.4 L1041.0,944.6 L1043.9,943.9 L1046.9,943.1 L1049.8,942.4 L1052.7,941.6 L1055.6,940.9 L1058.5,940.1 L1061.5,939.3 L1064.4,938.5 L1067.3,937.8 L1070.2,937.0 L1073.1,936.2 L1076.1,935.5 L1079.0,934.7 L1081.9,933.9 L1084.8,933.2 L1087.8,932.4 L1090.7,931.6 L1093.6,930.9 L1096.6,930.1 L1099.5,929.4 L1102.4,928.7 L1105.4,927.9 L1108.3,927.2 L1111.2,926.5 L1114.2,925.8 L1117.1,925.1 L1120.0,924.4 L1123.0,923.7 L1125.9,923.1 L1128.8,922.4 L1131.8,921.8 L1134.7,921.1 L1137.7,920.5 L1140.6,919.9 L1143.5,919.3 L1146.5,918.8 L1149.4,918.2 L1152.4,917.6 L1155.3,917.1 L1158.3,916.6 L1161.2,916.1 L1164.2,915.6 L1167.1,915.1 L1170.1,914.6 L1173.0,914.2 L1176.0,913.7 L1178.9,913.3 L1181.9,912.9 L1184.8,912.4 L1187.8,912.0 L1190.7,911.6 L1193.7,911.2 L1196.6,910.8 L1199.6,910.4 L1202.6,910.1 L1205.5,909.7 L1208.5,909.3 L1211.5,909.0 L1214.4,908.6 L1217.4,908.3 L1220.4,907.9 L1223.3,907.6 L1226.3,907.3 L1229.3,906.9 L1232.3,906.6 L1235.2,906.3 L1238.2,905.9 L1241.2,905.6 L1244.2,905.3 L1247.2,905.0 L1250.1,904.6 L1253.1,904.3 L1256.1,904.0 L1259.1,903.7 L1262.1,903.4 L1265.1,903.1 L1268.1,902.7 L1271.1,902.4 L1274.1,902.1 L1277.1,901.8 L1280.0,901.5 L1283.0,901.2 L1286.0,900.8 L1289.0,900.5 L1292.0,900.2 L1295.0,899.9 L1298.0,899.6 L1301.0,899.2 L1304.0,898.9 L1307.0,898.6 L1310.0,898.3 L1313.0,897.9 L1316.1,897.6 L1319.1,897.3 L1322.1,896.9 L1325.1,896.6 L1328.1,896.3 L1331.1,895.9 L1334.1,895.6 L1337.1,895.3 L1340.1,894.9 L1343.1,894.6 L1346.1,894.2 L1349.1,893.9 L1352.1,893.5 L1355.1,893.1 L1358.1,892.8 L1361.1,892.4 L1364.1,892.0 L1367.1,891.7 L1370.1,891.3 L1373.1,890.9 L1376.1,890.5 L1379.1,890.1 L1382.1,889.7 L1385.1,889.3 L1388.1,888.9 L1391.1,888.5 L1394.1,888.1 L1397.1,887.7 L1400.1,887.3 L1403.1,886.8 L1406.0,886.4 L1409.0,886.0 L1412.0,885.5 L1415.0,885.1 L1418.0,884.6 L1421.0,884.2 L1424.0,883.7 L1426.9,883.2 L1429.9,882.8 L1432.9,882.3 L1435.9,881.8 L1438.8,881.3 L1441.8,880.8 L1444.8,880.3 L1447.7,879.7 L1450.7,879.2 L1453.7,878.7 L1456.6,878.1 L1459.6,877.6 L1462.5,877.0 L1465.5,876.5 L1468.5,875.9 L1471.4,875.3 L1474.3,874.7 L1477.3,874.2 L1480.2,873.6 L1483.2,872.9 L1486.1,872.3 L1489.0,871.7 L1492.0,871.1 L1494.9,870.4 L1497.8,869.8 L1500.8,869.1 L1503.7,868.4 L1506.6,867.7 L1509.5,867.1 L1512.4,866.4 L1515.3,865.6 L1518.2,864.9 L1521.1,864.2 L1524.0,863.5 L1526.9,862.7 L1529.8,861.9 L1532.7,861.2 L1535.6,860.4 L1538.5,859.6 L1541.4,858.8 L1544.2,858.0 L1547.1,857.2 L1550.0,856.3 L1552.8,855.5 L1555.7,854.6 L1558.6,853.7 L1561.4,852.9 L1564.3,852.0 L1567.1,851.1 L1569.9,850.1 L1572.8,849.2 L1575.6,848.3 L1578.4,847.3 L1581.3,846.4 L1584.1,845.4 L1586.9,844.4 L1589.7,843.4 L1592.5,842.4 L1595.3,841.3 L1598.1,840.3 L1600.9,839.2 L1603.7,838.2 L1606.5,837.1 L1609.3,836.0 L1612.0,834.9 L1614.8,833.7 L1617.6,832.6 L1620.3,831.4 L1623.1,830.3 L1625.8,829.1 L1628.6,827.9 L1631.3,826.7 L1634.0,825.5 L1636.8,824.2 L1639.5,823.0 L1642.2,821.7 L1644.9,820.4 L1647.6,819.1 L1650.3,817.8 L1653.0,816.5 L1655.7,815.1 L1658.4,813.8 L1661.1,812.4 L1663.8,811.0 L1666.4,809.7 L1669.1,808.3 L1671.8,806.9 L1674.4,805.5 L1677.1,804.0 L1679.8,802.6 L1682.4,801.2 L1685.1,799.7 L1687.7,798.3 L1690.4,796.8 L1693.0,795.4 L1695.7,793.9 L1698.3,792.4 L1701.0,791.0 L1703.6,789.5 L1706.3,788.0 L1708.9,786.5 L1711.6,785.0 L1714.2,783.5 L1716.8,782.1 L1719.5,780.6 L1722.1,779.1 L1724.8,777.6 L1727.4,776.1 L1730.1,774.6 L1732.7,773.2 L1735.4,771.7 L1738.0,770.2 L1740.7,768.8 L1743.3,767.3 L1746.0,765.8 L1748.6,764.4 L1751.3,762.9 L1754.0,761.5 L1756.6,760.1 L1759.3,758.6 L1762.0,757.2 L1764.6,755.8 L1767.3,754.4 L1770.0,753.0 L1772.7,751.6 L1775.4,750.3 L1778.1,748.9 L1780.8,747.6 L1783.5,746.3 L1786.2,744.9 L1788.9,743.6 L1791.6,742.3 L1794.3,741.1 L1797.1,739.8 L1799.8,738.5 L1802.6,737.3 L1805.3,736.1 L1808.1,734.9 L1810.8,733.7 L1813.6,732.6 L1816.4,731.4 L1819.2,730.3 L1821.9,729.2 L1824.7,728.1 L1827.5,727.0 L1830.3,725.9 L1833.1,724.9 L1836.0,723.8 L1838.8,722.8 L1841.6,721.7 L1844.4,720.7 L1847.3,719.7 L1850.1,718.7 L1852.9,717.7 L1855.8,716.7 L1858.6,715.7 L1861.4,714.8 L1864.3,713.8 L1867.1,712.8 L1870.0,711.9 L1872.8,710.9 L1875.7,709.9 L1878.5,709.0 L1881.4,708.0 L1884.2,707.1 L1887.1,706.1 L1889.9,705.1 L1892.8,704.2 L1895.6,703.2 L1898.5,702.2 L1901.3,701.3 L1904.2,700.3 L1907.0,699.3 L1909.8,698.3 L1912.7,697.3 L1915.5,696.3 L1918.4,695.3 L1921.2,694.3 L1924.0,693.3 L1926.9,692.3 L1929.7,691.2 L1932.5,690.2 L1935.4,689.2 L1938.2,688.2 L1941.0,687.2 L1943.9,686.1 L1946.7,685.1 L1949.5,684.1 L1952.3,683.1 L1955.2,682.0 L1958.0,681.0 L1960.8,680.0 L1963.7,678.9 L1966.5,677.9 L1969.3,676.9 L1972.2,675.9 L1975.0,674.9 L1977.8,673.8 L1980.6,672.8 L1983.5,671.8 L1986.3,670.8 L1989.2,669.8 L1992.0,668.8 L1994.8,667.8 L1997.7,666.8 L2000.5,665.8 L2003.4,664.8 L2006.2,663.8 L2009.0,662.9 L2011.9,661.9 L2014.7,660.9 L2017.6,660.0 L2020.4,659.0 L2023.3,658.1 L2026.2,657.1 L2029.0,656.2 L2031.9,655.3 L2034.8,654.4 L2037.6,653.5 L2040.5,652.6 L2043.4,651.7 L2046.2,650.8 L2049.1,649.9 L2052.0,649.1 L2054.9,648.2 L2057.8,647.4 L2060.7,646.5 L2063.6,645.7 L2066.5,644.9 L2069.4,644.1 L2072.3,643.3 L2075.2,642.5 L2078.1,641.8 L2081.0,641.0" fill="none" stroke="#00B04C" stroke-width="12.5" stroke-linecap="round" stroke-linejoin="round"/>
<path d="M2081.0,641.0 L2078.0,640.3 L2074.9,639.6 L2071.9,639.0 L2068.9,638.3 L2065.9,637.7 L2062.9,637.1 L2060.0,636.5 L2057.0,636.0 L2054.0,635.4 L2051.1,634.9 L2048.1,634.3 L2045.2,633.8 L2042.2,633.3 L2039.3,632.9 L2036.3,632.4 L2033.4,631.9 L2030.5,631.5 L2027.5,631.1 L2024.6,630.6 L2021.7,630.2 L2018.8,629.8 L2015.9,629.4 L2012.9,629.0 L2010.0,628.7 L2007.1,628.3 L2004.2,627.9 L2001.3,627.6 L1998.4,627.2 L1995.5,626.9 L1992.5,626.5 L1989.6,626.2 L1986.7,625.9 L1983.8,625.6 L1980.8,625.2 L1977.9,624.9 L1975.0,624.6 L1972.0,624.3 L1969.1,624.0 L1966.2,623.7 L1963.2,623.4 L1960.2,623.1 L1957.3,622.8 L1954.3,622.4 L1951.3,622.1 L1948.4,621.8 L1945.4,621.5 L1942.4,621.2 L1939.4,620.9 L1936.4,620.5 L1933.3,620.2 L1930.3,619.9 L1927.3,619.6 L1924.2,619.2 L1921.2,618.9 L1918.1,618.6 L1915.1,618.2 L1912.0,617.9 L1908.9,617.6 L1905.9,617.3 L1902.8,617.0 L1899.7,616.7 L1896.6,616.4 L1893.6,616.1 L1890.5,615.8 L1887.4,615.5 L1884.3,615.3 L1881.2,615.0 L1878.1,614.8 L1875.0,614.6 L1871.9,614.4 L1868.8,614.2 L1865.8,614.0 L1862.7,613.8 L1859.6,613.7 L1856.5,613.6 L1853.4,613.4 L1850.3,613.3 L1847.3,613.3 L1844.2,613.2 L1841.1,613.2 L1838.1,613.2 L1835.0,613.2 L1832.0,613.2 L1828.9,613.3 L1825.9,613.4 L1822.8,613.5 L1819.8,613.6 L1816.8,613.8 L1813.8,614.0 L1810.8,614.2 L1807.8,614.5 L1804.8,614.8 L1801.8,615.1 L1798.8,615.4 L1795.9,615.8 L1792.9,616.2 L1790.0,616.7 L1787.0,617.1 L1784.1,617.7 L1781.2,618.2 L1778.3,618.8 L1775.4,619.5 L1772.6,620.1 L1769.7,620.8 L1766.9,621.6 L1764.0,622.4 L1761.2,623.2 L1758.4,624.1 L1755.6,624.9 L1752.8,625.9 L1750.0,626.8 L1747.3,627.8 L1744.5,628.8 L1741.8,629.9 L1739.1,631.0 L1736.4,632.1 L1733.7,633.3 L1731.0,634.4 L1728.3,635.7 L1725.6,636.9 L1723.0,638.2 L1720.3,639.5 L1717.7,640.8 L1715.0,642.1 L1712.4,643.5 L1709.8,644.9 L1707.2,646.4 L1704.7,647.8 L1702.1,649.3 L1699.5,650.8 L1697.0,652.3 L1694.4,653.9 L1691.9,655.5 L1689.4,657.1 L1686.9,658.7 L1684.4,660.3 L1681.9,662.0 L1679.4,663.7 L1676.9,665.4 L1674.5,667.1 L1672.0,668.8 L1669.6,670.6 L1667.2,672.4 L1664.8,674.2 L1662.3,676.0 L1659.9,677.8 L1657.6,679.7 L1655.2,681.5 L1652.8,683.4 L1650.4,685.3 L1648.1,687.2 L1645.7,689.1 L1643.4,691.0 L1641.1,692.9 L1638.8,694.9 L1636.5,696.9 L1634.2,698.8 L1631.9,700.8 L1629.6,702.8 L1627.3,704.8 L1625.0,706.8 L1622.8,708.8 L1620.5,710.9 L1618.3,712.9 L1616.1,714.9 L1613.8,717.0 L1611.6,719.0 L1609.4,721.1 L1607.2,723.1 L1604.9,725.2 L1602.7,727.3 L1600.5,729.4 L1598.3,731.4 L1596.1,733.5 L1594.0,735.6 L1591.8,737.7 L1589.6,739.8 L1587.4,741.9 L1585.2,744.0 L1583.0,746.0 L1580.8,748.1 L1578.7,750.2 L1576.5,752.3 L1574.3,754.4 L1572.1,756.5 L1569.9,758.6 L1567.7,760.6 L1565.6,762.7 L1563.4,764.8 L1561.2,766.8 L1559.0,768.9 L1556.8,771.0 L1554.6,773.0 L1552.4,775.1 L1550.2,777.1 L1548.0,779.1 L1545.8,781.1 L1543.5,783.2 L1541.3,785.2 L1539.1,787.2 L1536.8,789.1 L1534.6,791.1 L1532.3,793.1 L1530.1,795.0 L1527.8,797.0 L1525.5,798.9 L1523.2,800.8 L1520.9,802.7 L1518.6,804.6 L1516.3,806.5 L1514.0,808.4 L1511.7,810.2 L1509.3,812.1 L1507.0,813.9 L1504.6,815.7 L1502.2,817.5 L1499.9,819.3 L1497.5,821.0 L1495.0,822.8 L1492.6,824.5 L1490.2,826.2 L1487.7,827.9 L1485.3,829.5 L1482.8,831.2 L1480.3,832.8 L1477.8,834.4 L1475.2,836.0 L1472.7,837.5 L1470.2,839.1 L1467.6,840.6 L1465.0,842.1 L1462.4,843.6 L1459.8,845.1 L1457.2,846.5 L1454.6,847.9 L1451.9,849.3 L1449.3,850.7 L1446.6,852.1 L1443.9,853.5 L1441.2,854.8 L1438.5,856.2 L1435.8,857.5 L1433.1,858.8 L1430.4,860.1 L1427.7,861.4 L1424.9,862.6 L1422.2,863.9 L1419.4,865.1 L1416.7,866.3 L1413.9,867.6 L1411.1,868.8 L1408.3,870.0 L1405.5,871.1 L1402.7,872.3 L1400.0,873.5 L1397.2,874.6 L1394.3,875.8 L1391.5,876.9 L1388.7,878.0 L1385.9,879.2 L1383.1,880.3 L1380.3,881.4 L1377.5,882.5 L1374.6,883.6 L1371.8,884.7 L1369.0,885.8 L1366.2,886.8 L1363.3,887.9 L1360.5,889.0 L1357.7,890.0 L1354.8,891.1 L1352.0,892.2 L1349.2,893.2 L1346.4,894.3 L1343.6,895.3 L1340.8,896.4 L1337.9,897.5 L1335.1,898.5 L1332.3,899.6 L1329.5,900.6 L1326.7,901.7 L1323.9,902.7 L1321.1,903.8 L1318.3,904.9 L1315.5,905.9 L1312.7,907.0 L1309.9,908.1 L1307.2,909.2 L1304.4,910.2 L1301.6,911.3 L1298.8,912.4 L1296.0,913.5 L1293.3,914.6 L1290.5,915.8 L1287.7,916.9 L1285.0,918.0 L1282.2,919.2 L1279.5,920.3 L1276.7,921.5 L1274.0,922.7 L1271.2,923.9 L1268.5,925.0 L1265.8,926.3 L1263.0,927.5 L1260.3,928.7 L1257.6,929.9 L1254.9,931.2 L1252.1,932.4 L1249.4,933.7 L1246.7,934.9 L1244.0,936.2 L1241.3,937.5 L1238.6,938.8 L1235.9,940.1 L1233.2,941.4 L1230.5,942.7 L1227.8,944.0 L1225.1,945.3 L1222.4,946.6 L1219.7,948.0 L1217.0,949.3 L1214.3,950.6 L1211.6,952.0 L1209.0,953.3 L1206.3,954.7 L1203.6,956.1 L1200.9,957.4 L1198.3,958.8 L1195.6,960.2 L1192.9,961.5 L1190.2,962.9 L1187.6,964.3 L1184.9,965.7 L1182.2,967.1 L1179.6,968.5 L1176.9,969.9 L1174.2,971.3 L1171.6,972.7 L1168.9,974.1 L1166.2,975.5 L1163.6,976.9 L1160.9,978.3 L1158.3,979.7 L1155.6,981.1 L1152.9,982.5 L1150.3,983.9 L1147.6,985.4 L1145.0,986.8 L1142.3,988.2 L1139.7,989.6 L1137.0,991.0 L1134.3,992.4 L1131.7,993.8 L1129.0,995.2 L1126.4,996.6 L1123.7,998.0 L1121.1,999.4 L1118.4,1000.9 L1115.7,1002.3 L1113.1,1003.7 L1110.4,1005.1 L1107.8,1006.5 L1105.1,1007.9 L1102.4,1009.3 L1099.8,1010.7 L1097.1,1012.1 L1094.5,1013.5 L1091.8,1014.9 L1089.2,1016.3 L1086.5,1017.7 L1083.8,1019.1 L1081.2,1020.5 L1078.5,1021.9 L1075.9,1023.3 L1073.2,1024.7 L1070.5,1026.1 L1067.9,1027.5 L1065.2,1028.9 L1062.6,1030.2 L1059.9,1031.6 L1057.2,1033.0 L1054.6,1034.4 L1051.9,1035.8 L1049.3,1037.2 L1046.6,1038.6 L1043.9,1040.0 L1041.3,1041.4 L1038.6,1042.8 L1036.0,1044.1 L1033.3,1045.5 L1030.6,1046.9 L1028.0,1048.3 L1025.3,1049.7 L1022.6,1051.1 L1020.0,1052.4 L1017.3,1053.8 L1014.7,1055.2 L1012.0,1056.6 L1009.3,1058.0 L1006.7,1059.3 L1004.0,1060.7 L1001.3,1062.1 L998.7,1063.5 L996.0,1064.8 L993.3,1066.2 L990.7,1067.6 L988.0,1068.9 L985.3,1070.3 L982.7,1071.7 L980.0,1073.0 L977.3,1074.4 L974.6,1075.7 L972.0,1077.1 L969.3,1078.4 L966.6,1079.7 L963.9,1081.0 L961.2,1082.4 L958.5,1083.7 L955.8,1085.0 L953.1,1086.3 L950.4,1087.6 L947.7,1088.9 L945.0,1090.2 L942.3,1091.4 L939.6,1092.7 L936.9,1094.0 L934.2,1095.2 L931.4,1096.5 L928.7,1097.7 L926.0,1098.9 L923.2,1100.1 L920.5,1101.3 L917.7,1102.5 L915.0,1103.7 L912.2,1104.9 L909.5,1106.1 L906.7,1107.2 L903.9,1108.3 L901.1,1109.5 L898.4,1110.6 L895.6,1111.7 L892.8,1112.8 L890.0,1113.9 L887.2,1115.0 L884.4,1116.0 L881.5,1117.1 L878.7,1118.1 L875.9,1119.1 L873.1,1120.1 L870.2,1121.1 L867.4,1122.1 L864.5,1123.1 L861.7,1124.0 L858.8,1125.0 L856.0,1125.9 L853.1,1126.8 L850.2,1127.7 L847.3,1128.6 L844.5,1129.5 L841.6,1130.4 L838.7,1131.2 L835.8,1132.1 L832.9,1132.9 L830.0,1133.7 L827.1,1134.5 L824.2,1135.3 L821.3,1136.1 L818.4,1136.9 L815.5,1137.6 L812.6,1138.4 L809.6,1139.1 L806.7,1139.8 L803.8,1140.5 L800.9,1141.2 L797.9,1141.8 L795.0,1142.5 L792.1,1143.1 L789.1,1143.8 L786.2,1144.4 L783.2,1145.0 L780.3,1145.6 L777.3,1146.1 L774.4,1146.7 L771.4,1147.2 L768.5,1147.7 L765.5,1148.3 L762.6,1148.8 L759.6,1149.2 L756.6,1149.7 L753.7,1150.2 L750.7,1150.6 L747.7,1151.0 L744.8,1151.4 L741.8,1151.8 L738.8,1152.2 L735.9,1152.6 L732.9,1153.0 L729.9,1153.3 L726.9,1153.6 L724.0,1154.0 L721.0,1154.3 L718.0,1154.6 L715.0,1154.9 L712.0,1155.1 L709.0,1155.4 L706.1,1155.6 L703.1,1155.9 L700.1,1156.1 L697.1,1156.3 L694.1,1156.5 L691.1,1156.7 L688.1,1156.9 L685.1,1157.1 L682.1,1157.3 L679.1,1157.4 L676.1,1157.6 L673.1,1157.7 L670.1,1157.9 L667.1,1158.0 L664.1,1158.1 L661.1,1158.2 L658.1,1158.3 L655.1,1158.4 L652.1,1158.5 L649.1,1158.6 L646.1,1158.7 L643.1,1158.7 L640.1,1158.8 L637.1,1158.9 L634.1,1158.9 L631.1,1159.0 L628.1,1159.0 L625.1,1159.0 L622.1,1159.1 L619.0,1159.1 L616.0,1159.1 L613.0,1159.1 L610.0,1159.1 L607.0,1159.1 L604.0,1159.1 L601.0,1159.1 L598.0,1159.1 L594.9,1159.1 L591.9,1159.1 L588.9,1159.1 L585.9,1159.0 L582.9,1159.0 L579.9,1159.0 L576.9,1159.0 L573.8,1158.9 L570.8,1158.9 L567.8,1158.9 L564.8,1158.8 L561.8,1158.8 L558.8,1158.8 L555.8,1158.7 L552.7,1158.7 L549.7,1158.6 L546.7,1158.6 L543.7,1158.6 L540.7,1158.5 L537.7,1158.5 L534.6,1158.5 L531.6,1158.4 L528.6,1158.4 L525.6,1158.4 L522.6,1158.3 L519.6,1158.3 L516.6,1158.3 L513.5,1158.2 L510.5,1158.2 L507.5,1158.2 L504.5,1158.2 L501.5,1158.2 L498.5,1158.2 L495.5,1158.2 L492.5,1158.2 L489.5,1158.2 L486.4,1158.3 L483.4,1158.3 L480.4,1158.4 L477.4,1158.4 L474.4,1158.5 L471.4,1158.6 L468.4,1158.7 L465.5,1158.9 L462.5,1159.0 L459.5,1159.1 L456.5,1159.3 L453.5,1159.5 L450.5,1159.7 L447.5,1159.9 L444.6,1160.2 L441.6,1160.5 L438.6,1160.8 L435.7,1161.1 L432.7,1161.4 L429.7,1161.8 L426.8,1162.2 L423.8,1162.6 L420.9,1163.0 L417.9,1163.5 L415.0,1164.0 L412.0,1164.5 L409.1,1165.0 L406.2,1165.6 L403.2,1166.2 L400.3,1166.9 L397.4,1167.5 L394.5,1168.2 L391.6,1169.0 L388.7,1169.7 L385.8,1170.6 L382.9,1171.4 L380.0,1172.3 L377.1,1173.2" fill="none" stroke="#00B04C" stroke-width="12.5" stroke-linecap="round" stroke-linejoin="round"/>
<path d="M375.0,1044.6 L377.9,1043.6 L380.7,1042.7 L383.6,1041.8 L386.4,1040.9 L389.3,1040.0 L392.2,1039.1 L395.1,1038.3 L398.0,1037.5 L400.8,1036.7 L403.7,1035.9 L406.6,1035.2 L409.5,1034.4 L412.4,1033.7 L415.3,1033.0 L418.3,1032.3 L421.2,1031.6 L424.1,1031.0 L427.0,1030.4 L429.9,1029.7 L432.9,1029.1 L435.8,1028.5 L438.7,1028.0 L441.7,1027.4 L444.6,1026.8 L447.6,1026.3 L450.5,1025.8 L453.5,1025.3 L456.4,1024.8 L459.4,1024.3 L462.3,1023.8 L465.3,1023.4 L468.2,1022.9 L471.2,1022.5 L474.2,1022.0 L477.1,1021.6 L480.1,1021.2 L483.1,1020.8 L486.1,1020.4 L489.0,1020.0 L492.0,1019.6 L495.0,1019.2 L498.0,1018.8 L500.9,1018.5 L503.9,1018.1 L506.9,1017.8 L509.9,1017.4 L512.9,1017.1 L515.9,1016.7 L518.9,1016.4 L521.9,1016.0 L524.8,1015.7 L527.8,1015.4 L530.8,1015.0 L533.8,1014.7 L536.8,1014.4 L539.8,1014.1 L542.8,1013.7 L545.8,1013.4 L548.8,1013.1 L551.8,1012.8 L554.8,1012.4 L557.8,1012.1 L560.8,1011.8 L563.7,1011.4 L566.7,1011.1 L569.7,1010.8 L572.7,1010.4 L575.7,1010.1 L578.7,1009.7 L581.7,1009.4 L584.7,1009.0 L587.7,1008.6 L590.7,1008.3 L593.6,1007.9 L596.6,1007.5 L599.6,1007.1 L602.6,1006.7 L605.6,1006.3 L608.5,1005.9 L611.5,1005.5 L614.5,1005.0 L617.5,1004.6 L620.5,1004.1 L623.4,1003.7 L626.4,1003.2 L629.4,1002.8 L632.3,1002.3 L635.3,1001.8 L638.3,1001.3 L641.2,1000.8 L644.2,1000.3 L647.2,999.8 L650.1,999.3 L653.1,998.8 L656.1,998.3 L659.0,997.8 L662.0,997.3 L664.9,996.7 L667.9,996.2 L670.8,995.6 L673.8,995.1 L676.8,994.5 L679.7,994.0 L682.7,993.4 L685.6,992.9 L688.6,992.3 L691.5,991.7 L694.5,991.1 L697.4,990.6 L700.4,990.0 L703.3,989.4 L706.3,988.8 L709.2,988.2 L712.2,987.6 L715.1,987.0 L718.1,986.4 L721.0,985.8 L724.0,985.2 L726.9,984.6 L729.8,984.0 L732.8,983.4 L735.7,982.7 L738.7,982.1 L741.6,981.5 L744.6,980.9 L747.5,980.3 L750.4,979.6 L753.4,979.0 L756.3,978.4 L759.3,977.8 L762.2,977.1 L765.2,976.5 L768.1,975.9 L771.0,975.2 L774.0,974.6 L776.9,974.0 L779.9,973.3 L782.8,972.7 L785.7,972.1 L788.7,971.5 L791.6,970.8 L794.6,970.2 L797.5,969.6 L800.5,968.9 L803.4,968.3 L806.3,967.7 L809.3,967.1 L812.2,966.4 L815.2,965.8 L818.1,965.2 L821.1,964.6 L824.0,964.0 L826.9,963.3 L829.9,962.7 L832.8,962.1 L835.8,961.5 L838.7,960.9 L841.7,960.3 L844.6,959.7 L847.6,959.1 L850.5,958.5 L853.5,957.9 L856.4,957.3 L859.4,956.7 L862.3,956.1 L865.3,955.5 L868.2,954.9 L871.1,954.3 L874.1,953.8 L877.0,953.2 L880.0,952.6 L882.9,952.0 L885.9,951.4 L888.9,950.9 L891.8,950.3 L894.8,949.7 L897.7,949.2 L900.7,948.6 L903.6,948.0 L906.6,947.5 L909.5,946.9 L912.5,946.4 L915.4,945.8 L918.4,945.3 L921.3,944.7 L924.3,944.2 L927.2,943.6 L930.2,943.1 L933.2,942.5 L936.1,942.0 L939.1,941.5 L942.0,940.9 L945.0,940.4 L947.9,939.9 L950.9,939.3 L953.9,938.8 L956.8,938.3 L959.8,937.8 L962.7,937.3 L965.7,936.8 L968.7,936.3 L971.6,935.8 L974.6,935.2 L977.5,934.7 L980.5,934.3 L983.5,933.8 L986.4,933.3 L989.4,932.8 L992.4,932.3 L995.3,931.8 L998.3,931.3 L1001.3,930.8 L1004.2,930.4 L1007.2,929.9 L1010.2,929.4 L1013.1,929.0 L1016.1,928.5 L1019.1,928.0 L1022.0,927.6 L1025.0,927.1 L1028.0,926.7 L1030.9,926.2 L1033.9,925.8 L1036.9,925.3 L1039.8,924.9 L1042.8,924.5 L1045.8,924.0 L1048.8,923.6 L1051.7,923.2 L1054.7,922.7 L1057.7,922.3 L1060.6,921.9 L1063.6,921.5 L1066.6,921.1 L1069.6,920.7 L1072.5,920.3 L1075.5,919.9 L1078.5,919.5 L1081.5,919.1 L1084.4,918.7 L1087.4,918.3 L1090.4,917.9 L1093.4,917.5 L1096.3,917.1 L1099.3,916.8 L1102.3,916.4 L1105.3,916.0 L1108.3,915.7 L1111.2,915.3 L1114.2,914.9 L1117.2,914.6 L1120.2,914.2 L1123.2,913.9 L1126.1,913.5 L1129.1,913.2 L1132.1,912.9 L1135.1,912.5 L1138.1,912.2 L1141.1,911.9 L1144.0,911.6 L1147.0,911.2 L1150.0,910.9 L1153.0,910.6 L1156.0,910.3 L1159.0,910.0 L1162.0,909.7 L1165.0,909.4 L1167.9,909.1 L1170.9,908.8 L1173.9,908.6 L1176.9,908.3 L1179.9,908.0 L1182.9,907.7 L1185.9,907.5 L1188.9,907.2 L1191.9,906.9 L1194.9,906.7 L1197.9,906.4 L1200.8,906.2 L1203.8,905.9 L1206.8,905.7 L1209.8,905.5 L1212.8,905.2 L1215.8,905.0 L1218.8,904.8 L1221.8,904.6 L1224.8,904.3 L1227.8,904.1 L1230.8,903.9 L1233.8,903.7 L1236.8,903.5 L1239.8,903.3 L1242.8,903.1 L1245.8,903.0 L1248.8,902.8 L1251.8,902.6 L1254.8,902.4 L1257.8,902.2 L1260.8,902.1 L1263.8,901.9 L1266.8,901.7 L1269.8,901.6 L1272.8,901.4 L1275.8,901.2 L1278.8,901.1 L1281.8,900.9 L1284.8,900.7 L1287.8,900.6 L1290.8,900.4 L1293.8,900.3 L1296.8,900.1 L1299.9,899.9 L1302.9,899.8 L1305.9,899.6 L1308.9,899.5 L1311.9,899.3 L1314.9,899.1 L1317.9,899.0 L1320.9,898.8 L1323.9,898.6 L1326.9,898.5 L1329.9,898.3 L1332.9,898.1 L1335.9,897.9 L1338.9,897.7 L1341.9,897.5 L1344.9,897.4 L1347.9,897.2 L1350.9,897.0 L1353.9,896.8 L1356.9,896.6 L1359.9,896.3 L1362.9,896.1 L1365.9,895.9 L1368.9,895.7 L1371.9,895.4 L1374.9,895.2 L1377.9,895.0 L1380.9,894.7 L1383.9,894.5 L1386.9,894.2 L1389.9,893.9 L1392.9,893.7 L1395.9,893.4 L1398.9,893.1 L1401.8,892.8 L1404.8,892.5 L1407.8,892.2 L1410.8,891.9 L1413.8,891.6 L1416.8,891.3 L1419.8,890.9 L1422.8,890.6 L1425.8,890.3 L1428.8,889.9 L1431.7,889.6 L1434.7,889.2 L1437.7,888.9 L1440.7,888.5 L1443.7,888.1 L1446.7,887.8 L1449.6,887.4 L1452.6,887.0 L1455.6,886.6 L1458.6,886.2 L1461.6,885.8 L1464.5,885.4 L1467.5,885.0 L1470.5,884.6 L1473.5,884.2 L1476.4,883.7 L1479.4,883.3 L1482.4,882.9 L1485.4,882.4 L1488.3,882.0 L1491.3,881.5 L1494.3,881.1 L1497.2,880.6 L1500.2,880.2 L1503.2,879.7 L1506.1,879.2 L1509.1,878.7 L1512.1,878.3 L1515.0,877.8 L1518.0,877.3 L1520.9,876.8 L1523.9,876.3 L1526.9,875.8 L1529.8,875.3 L1532.8,874.7 L1535.7,874.2 L1538.7,873.7 L1541.6,873.2 L1544.6,872.6 L1547.6,872.1 L1550.5,871.5 L1553.5,871.0 L1556.4,870.4 L1559.4,869.9 L1562.3,869.3 L1565.3,868.7 L1568.2,868.2 L1571.1,867.6 L1574.1,867.0 L1577.0,866.4 L1580.0,865.8 L1582.9,865.2 L1585.9,864.6 L1588.8,864.0 L1591.7,863.4 L1594.7,862.8 L1597.6,862.1 L1600.5,861.5 L1603.5,860.9 L1606.4,860.2 L1609.3,859.6 L1612.3,858.9 L1615.2,858.3 L1618.1,857.6 L1621.1,857.0 L1624.0,856.3 L1626.9,855.6 L1629.9,855.0 L1632.8,854.3 L1635.7,853.6 L1638.6,852.9 L1641.6,852.2 L1644.5,851.6 L1647.4,850.9 L1650.3,850.2 L1653.2,849.5 L1656.2,848.8 L1659.1,848.1 L1662.0,847.4 L1664.9,846.7 L1667.9,846.0 L1670.8,845.3 L1673.7,844.5 L1676.6,843.8 L1679.5,843.1 L1682.4,842.4 L1685.4,841.7 L1688.3,841.0 L1691.2,840.3 L1694.1,839.5 L1697.0,838.8 L1700.0,838.1 L1702.9,837.4 L1705.8,836.7 L1708.7,836.0 L1711.6,835.2 L1714.5,834.5 L1717.5,833.8 L1720.4,833.1 L1723.3,832.4 L1726.2,831.7 L1729.1,830.9 L1732.1,830.2 L1735.0,829.5 L1737.9,828.8 L1740.8,828.1 L1743.7,827.4 L1746.7,826.7 L1749.6,826.0 L1752.5,825.3 L1755.4,824.6 L1758.3,823.9 L1761.3,823.2 L1764.2,822.5 L1767.1,821.8 L1770.0,821.1 L1773.0,820.5 L1775.9,819.8 L1778.8,819.1 L1781.8,818.4 L1784.7,817.8 L1787.6,817.1 L1790.5,816.4 L1793.5,815.8 L1796.4,815.1 L1799.3,814.5 L1802.3,813.8 L1805.2,813.2 L1808.1,812.6 L1811.1,811.9 L1814.0,811.3 L1817.0,810.7 L1819.9,810.1 L1822.8,809.5 L1825.8,808.9 L1828.7,808.3 L1831.7,807.7 L1834.6,807.1 L1837.6,806.5 L1840.5,805.9 L1843.5,805.3 L1846.4,804.8 L1849.4,804.2 L1852.3,803.6 L1855.3,803.1 L1858.2,802.5 L1861.2,802.0 L1864.1,801.4 L1867.1,800.9 L1870.1,800.4 L1873.0,799.8 L1876.0,799.3 L1878.9,798.8 L1881.9,798.3 L1884.9,797.7 L1887.8,797.2 L1890.8,796.7 L1893.7,796.2 L1896.7,795.7 L1899.7,795.2 L1902.6,794.7 L1905.6,794.2 L1908.6,793.7 L1911.5,793.3 L1914.5,792.8 L1917.5,792.3 L1920.5,791.8 L1923.4,791.3 L1926.4,790.9 L1929.4,790.4 L1932.3,789.9 L1935.3,789.4 L1938.3,789.0 L1941.3,788.5 L1944.2,788.1 L1947.2,787.6 L1950.2,787.1 L1953.1,786.7 L1956.1,786.2 L1959.1,785.8 L1962.1,785.3 L1965.0,784.9 L1968.0,784.4 L1971.0,784.0 L1974.0,783.5 L1976.9,783.1 L1979.9,782.6 L1982.9,782.2 L1985.9,781.8 L1988.8,781.3 L1991.8,780.9 L1994.8,780.4 L1997.8,780.0 L2000.7,779.6 L2003.7,779.1 L2006.7,778.7 L2009.7,778.2 L2012.6,777.8 L2015.6,777.4 L2018.6,776.9 L2021.6,776.5 L2024.5,776.0 L2027.5,775.6 L2030.5,775.2 L2033.5,774.7 L2036.4,774.3 L2039.4,773.8 L2042.4,773.4 L2045.4,772.9 L2048.3,772.5 L2051.3,772.0 L2054.3,771.6 L2057.2,771.1 L2060.2,770.7 L2063.2,770.2 L2066.2,769.8 L2069.1,769.3 L2072.1,768.9 L2075.1,768.4 L2078.0,768.0 L2081.0,767.5" fill="none" stroke="#A449CF" stroke-width="12.5" stroke-linecap="round" stroke-linejoin="round"/>
<path d="M2081.0,767.5 L2078.0,767.6 L2075.0,767.6 L2072.0,767.7 L2069.0,767.7 L2066.0,767.7 L2063.1,767.8 L2060.1,767.8 L2057.1,767.8 L2054.1,767.8 L2051.1,767.8 L2048.0,767.8 L2045.0,767.8 L2042.0,767.8 L2039.0,767.8 L2036.0,767.8 L2033.0,767.8 L2030.0,767.7 L2027.0,767.7 L2024.0,767.7 L2020.9,767.7 L2017.9,767.6 L2014.9,767.6 L2011.9,767.5 L2008.9,767.5 L2005.9,767.5 L2002.8,767.4 L1999.8,767.4 L1996.8,767.3 L1993.8,767.3 L1990.7,767.3 L1987.7,767.2 L1984.7,767.2 L1981.7,767.1 L1978.6,767.1 L1975.6,767.1 L1972.6,767.0 L1969.6,767.0 L1966.5,767.0 L1963.5,767.0 L1960.5,766.9 L1957.5,766.9 L1954.4,766.9 L1951.4,766.9 L1948.4,766.9 L1945.4,766.9 L1942.3,766.9 L1939.3,766.9 L1936.3,766.9 L1933.3,766.9 L1930.2,766.9 L1927.2,766.9 L1924.2,767.0 L1921.2,767.0 L1918.2,767.1 L1915.1,767.1 L1912.1,767.2 L1909.1,767.3 L1906.1,767.3 L1903.1,767.4 L1900.1,767.5 L1897.0,767.6 L1894.0,767.7 L1891.0,767.8 L1888.0,768.0 L1885.0,768.1 L1882.0,768.3 L1879.0,768.4 L1876.0,768.6 L1873.0,768.8 L1870.0,769.0 L1867.0,769.2 L1864.0,769.4 L1861.0,769.6 L1858.0,769.8 L1855.0,770.1 L1852.0,770.3 L1849.0,770.6 L1846.0,770.9 L1843.0,771.2 L1840.1,771.5 L1837.1,771.8 L1834.1,772.1 L1831.1,772.4 L1828.1,772.8 L1825.2,773.1 L1822.2,773.5 L1819.2,773.8 L1816.2,774.2 L1813.3,774.6 L1810.3,775.0 L1807.3,775.4 L1804.4,775.8 L1801.4,776.2 L1798.4,776.6 L1795.5,777.1 L1792.5,777.5 L1789.6,778.0 L1786.6,778.5 L1783.6,778.9 L1780.7,779.4 L1777.7,779.9 L1774.8,780.4 L1771.8,780.9 L1768.9,781.5 L1765.9,782.0 L1763.0,782.5 L1760.1,783.1 L1757.1,783.6 L1754.2,784.2 L1751.2,784.8 L1748.3,785.4 L1745.4,786.0 L1742.4,786.6 L1739.5,787.2 L1736.6,787.8 L1733.6,788.4 L1730.7,789.1 L1727.8,789.7 L1724.8,790.3 L1721.9,791.0 L1719.0,791.7 L1716.1,792.4 L1713.2,793.0 L1710.2,793.7 L1707.3,794.4 L1704.4,795.1 L1701.5,795.9 L1698.6,796.6 L1695.7,797.3 L1692.8,798.0 L1689.9,798.8 L1687.0,799.5 L1684.1,800.3 L1681.2,801.1 L1678.3,801.9 L1675.4,802.6 L1672.5,803.4 L1669.6,804.2 L1666.7,805.0 L1663.8,805.9 L1660.9,806.7 L1658.0,807.5 L1655.1,808.3 L1652.2,809.2 L1649.3,810.0 L1646.5,810.9 L1643.6,811.8 L1640.7,812.6 L1637.8,813.5 L1634.9,814.4 L1632.1,815.3 L1629.2,816.2 L1626.3,817.1 L1623.4,818.0 L1620.6,818.9 L1617.7,819.8 L1614.8,820.7 L1612.0,821.7 L1609.1,822.6 L1606.2,823.5 L1603.4,824.5 L1600.5,825.4 L1597.7,826.4 L1594.8,827.3 L1591.9,828.3 L1589.1,829.2 L1586.2,830.2 L1583.3,831.2 L1580.5,832.1 L1577.6,833.1 L1574.8,834.1 L1571.9,835.0 L1569.1,836.0 L1566.2,837.0 L1563.3,837.9 L1560.5,838.9 L1557.6,839.9 L1554.8,840.8 L1551.9,841.8 L1549.0,842.8 L1546.2,843.8 L1543.3,844.7 L1540.5,845.7 L1537.6,846.6 L1534.7,847.6 L1531.9,848.6 L1529.0,849.5 L1526.2,850.5 L1523.3,851.4 L1520.4,852.4 L1517.6,853.3 L1514.7,854.3 L1511.8,855.2 L1509.0,856.1 L1506.1,857.1 L1503.2,858.0 L1500.4,858.9 L1497.5,859.8 L1494.6,860.7 L1491.7,861.6 L1488.9,862.5 L1486.0,863.4 L1483.1,864.3 L1480.2,865.2 L1477.3,866.0 L1474.5,866.9 L1471.6,867.8 L1468.7,868.6 L1465.8,869.4 L1462.9,870.3 L1460.0,871.1 L1457.1,871.9 L1454.2,872.7 L1451.3,873.5 L1448.4,874.3 L1445.5,875.1 L1442.6,875.8 L1439.7,876.6 L1436.8,877.3 L1433.9,878.1 L1431.0,878.8 L1428.1,879.5 L1425.1,880.2 L1422.2,880.9 L1419.3,881.6 L1416.4,882.3 L1413.4,882.9 L1410.5,883.6 L1407.6,884.2 L1404.6,884.9 L1401.7,885.5 L1398.7,886.1 L1395.8,886.7 L1392.8,887.3 L1389.9,887.9 L1386.9,888.4 L1384.0,889.0 L1381.0,889.6 L1378.1,890.1 L1375.1,890.7 L1372.2,891.2 L1369.2,891.7 L1366.3,892.2 L1363.3,892.7 L1360.3,893.3 L1357.4,893.8 L1354.4,894.2 L1351.4,894.7 L1348.5,895.2 L1345.5,895.7 L1342.5,896.1 L1339.5,896.6 L1336.6,897.1 L1333.6,897.5 L1330.6,897.9 L1327.6,898.4 L1324.7,898.8 L1321.7,899.2 L1318.7,899.7 L1315.7,900.1 L1312.7,900.5 L1309.7,900.9 L1306.8,901.4 L1303.8,901.8 L1300.8,902.2 L1297.8,902.6 L1294.8,903.0 L1291.9,903.4 L1288.9,903.8 L1285.9,904.3 L1282.9,904.7 L1279.9,905.1 L1276.9,905.5 L1274.0,905.9 L1271.0,906.4 L1268.0,906.8 L1265.0,907.2 L1262.0,907.6 L1259.1,908.1 L1256.1,908.5 L1253.1,909.0 L1250.1,909.4 L1247.2,909.9 L1244.2,910.3 L1241.2,910.8 L1238.2,911.3 L1235.3,911.8 L1232.3,912.3 L1229.3,912.8 L1226.4,913.2 L1223.4,913.8 L1220.4,914.3 L1217.5,914.8 L1214.5,915.3 L1211.6,915.8 L1208.6,916.3 L1205.6,916.9 L1202.7,917.4 L1199.7,917.9 L1196.8,918.5 L1193.8,919.0 L1190.8,919.6 L1187.9,920.2 L1184.9,920.7 L1182.0,921.3 L1179.0,921.9 L1176.1,922.4 L1173.1,923.0 L1170.2,923.6 L1167.2,924.2 L1164.3,924.8 L1161.3,925.4 L1158.4,926.0 L1155.4,926.6 L1152.5,927.2 L1149.5,927.8 L1146.6,928.4 L1143.7,929.0 L1140.7,929.7 L1137.8,930.3 L1134.8,930.9 L1131.9,931.5 L1128.9,932.2 L1126.0,932.8 L1123.1,933.4 L1120.1,934.1 L1117.2,934.7 L1114.3,935.4 L1111.3,936.0 L1108.4,936.7 L1105.4,937.3 L1102.5,938.0 L1099.6,938.7 L1096.6,939.3 L1093.7,940.0 L1090.8,940.7 L1087.8,941.3 L1084.9,942.0 L1082.0,942.7 L1079.0,943.3 L1076.1,944.0 L1073.2,944.7 L1070.2,945.4 L1067.3,946.1 L1064.4,946.7 L1061.4,947.4 L1058.5,948.1 L1055.6,948.8 L1052.7,949.5 L1049.7,950.2 L1046.8,950.9 L1043.9,951.6 L1040.9,952.3 L1038.0,953.0 L1035.1,953.7 L1032.2,954.4 L1029.2,955.1 L1026.3,955.7 L1023.4,956.4 L1020.4,957.1 L1017.5,957.8 L1014.6,958.5 L1011.7,959.2 L1008.7,960.0 L1005.8,960.7 L1002.9,961.4 L1000.0,962.1 L997.0,962.8 L994.1,963.5 L991.2,964.2 L988.2,964.9 L985.3,965.6 L982.4,966.3 L979.5,967.0 L976.5,967.7 L973.6,968.4 L970.7,969.1 L967.8,969.8 L964.8,970.5 L961.9,971.2 L959.0,971.9 L956.0,972.5 L953.1,973.2 L950.2,973.9 L947.3,974.6 L944.3,975.3 L941.4,976.0 L938.5,976.7 L935.5,977.4 L932.6,978.1 L929.7,978.8 L926.8,979.4 L923.8,980.1 L920.9,980.8 L918.0,981.5 L915.0,982.1 L912.1,982.8 L909.2,983.5 L906.2,984.2 L903.3,984.8 L900.4,985.5 L897.4,986.2 L894.5,986.8 L891.6,987.5 L888.6,988.1 L885.7,988.8 L882.8,989.4 L879.8,990.1 L876.9,990.7 L873.9,991.4 L871.0,992.0 L868.1,992.7 L865.1,993.3 L862.2,993.9 L859.3,994.5 L856.3,995.2 L853.4,995.8 L850.4,996.4 L847.5,997.0 L844.5,997.6 L841.6,998.2 L838.7,998.8 L835.7,999.4 L832.8,1000.0 L829.8,1000.6 L826.9,1001.2 L823.9,1001.8 L821.0,1002.4 L818.0,1003.0 L815.1,1003.5 L812.1,1004.1 L809.2,1004.7 L806.2,1005.2 L803.3,1005.8 L800.3,1006.3 L797.4,1006.9 L794.4,1007.4 L791.4,1008.0 L788.5,1008.5 L785.5,1009.0 L782.6,1009.5 L779.6,1010.1 L776.7,1010.6 L773.7,1011.1 L770.7,1011.6 L767.8,1012.1 L764.8,1012.6 L761.8,1013.1 L758.9,1013.5 L755.9,1014.0 L752.9,1014.5 L750.0,1015.0 L747.0,1015.4 L744.0,1015.9 L741.0,1016.3 L738.1,1016.8 L735.1,1017.2 L732.1,1017.6 L729.1,1018.1 L726.2,1018.5 L723.2,1018.9 L720.2,1019.3 L717.2,1019.7 L714.2,1020.1 L711.3,1020.5 L708.3,1020.9 L705.3,1021.3 L702.3,1021.7 L699.3,1022.1 L696.3,1022.5 L693.4,1022.8 L690.4,1023.2 L687.4,1023.6 L684.4,1023.9 L681.4,1024.3 L678.4,1024.6 L675.4,1025.0 L672.4,1025.3 L669.4,1025.7 L666.5,1026.0 L663.5,1026.3 L660.5,1026.6 L657.5,1027.0 L654.5,1027.3 L651.5,1027.6 L648.5,1027.9 L645.5,1028.2 L642.5,1028.5 L639.5,1028.8 L636.5,1029.1 L633.5,1029.4 L630.5,1029.7 L627.5,1029.9 L624.5,1030.2 L621.5,1030.5 L618.5,1030.8 L615.5,1031.0 L612.5,1031.3 L609.5,1031.6 L606.5,1031.8 L603.5,1032.1 L600.5,1032.3 L597.5,1032.6 L594.5,1032.8 L591.5,1033.0 L588.5,1033.3 L585.5,1033.5 L582.5,1033.7 L579.5,1034.0 L576.4,1034.2 L573.4,1034.4 L570.4,1034.6 L567.4,1034.9 L564.4,1035.1 L561.4,1035.3 L558.4,1035.5 L555.4,1035.7 L552.4,1035.9 L549.4,1036.1 L546.4,1036.3 L543.4,1036.5 L540.4,1036.7 L537.3,1036.9 L534.3,1037.1 L531.3,1037.2 L528.3,1037.4 L525.3,1037.6 L522.3,1037.8 L519.3,1038.0 L516.3,1038.1 L513.3,1038.3 L510.3,1038.5 L507.3,1038.6 L504.2,1038.8 L501.2,1039.0 L498.2,1039.1 L495.2,1039.3 L492.2,1039.4 L489.2,1039.6 L486.2,1039.8 L483.2,1039.9 L480.2,1040.1 L477.2,1040.2 L474.2,1040.4 L471.1,1040.5 L468.1,1040.6 L465.1,1040.8 L462.1,1040.9 L459.1,1041.1 L456.1,1041.2 L453.1,1041.4 L450.1,1041.5 L447.1,1041.6 L444.1,1041.8 L441.1,1041.9 L438.1,1042.0 L435.1,1042.2 L432.0,1042.3 L429.0,1042.4 L426.0,1042.5 L423.0,1042.7 L420.0,1042.8 L417.0,1042.9 L414.0,1043.0 L411.0,1043.2 L408.0,1043.3 L405.0,1043.4 L402.0,1043.5 L399.0,1043.6 L396.0,1043.8 L393.0,1043.9 L390.0,1044.0 L387.0,1044.1 L384.0,1044.2 L381.0,1044.4 L378.0,1044.5 L375.0,1044.6" fill="none" stroke="#A449CF" stroke-width="12.5" stroke-linecap="round" stroke-linejoin="round"/>
<path d="M379.0,924.5 L381.9,923.8 L384.9,923.1 L387.8,922.4 L390.7,921.7 L393.7,921.0 L396.6,920.4 L399.6,919.8 L402.5,919.2 L405.5,918.6 L408.4,918.0 L411.3,917.4 L414.3,916.8 L417.3,916.3 L420.2,915.8 L423.2,915.2 L426.1,914.7 L429.1,914.2 L432.0,913.7 L435.0,913.3 L438.0,912.8 L440.9,912.4 L443.9,911.9 L446.9,911.5 L449.9,911.1 L452.8,910.7 L455.8,910.3 L458.8,909.9 L461.7,909.5 L464.7,909.2 L467.7,908.8 L470.7,908.5 L473.7,908.1 L476.6,907.8 L479.6,907.5 L482.6,907.2 L485.6,906.9 L488.6,906.6 L491.6,906.3 L494.6,906.0 L497.5,905.7 L500.5,905.5 L503.5,905.2 L506.5,904.9 L509.5,904.7 L512.5,904.5 L515.5,904.2 L518.5,904.0 L521.5,903.8 L524.5,903.6 L527.5,903.4 L530.5,903.2 L533.5,903.0 L536.5,902.8 L539.5,902.6 L542.5,902.4 L545.5,902.2 L548.5,902.0 L551.5,901.9 L554.5,901.7 L557.5,901.5 L560.5,901.4 L563.5,901.2 L566.5,901.0 L569.5,900.9 L572.5,900.7 L575.5,900.6 L578.5,900.4 L581.5,900.3 L584.5,900.1 L587.5,900.0 L590.5,899.8 L593.5,899.7 L596.5,899.6 L599.5,899.4 L602.5,899.3 L605.5,899.2 L608.5,899.0 L611.5,898.9 L614.5,898.8 L617.5,898.7 L620.5,898.5 L623.5,898.4 L626.5,898.3 L629.5,898.2 L632.5,898.1 L635.5,898.0 L638.5,897.9 L641.5,897.8 L644.5,897.7 L647.5,897.5 L650.5,897.4 L653.5,897.3 L656.6,897.3 L659.6,897.2 L662.6,897.1 L665.6,897.0 L668.6,896.9 L671.6,896.8 L674.6,896.7 L677.6,896.6 L680.6,896.5 L683.6,896.5 L686.6,896.4 L689.6,896.3 L692.6,896.2 L695.6,896.2 L698.6,896.1 L701.7,896.0 L704.7,895.9 L707.7,895.9 L710.7,895.8 L713.7,895.7 L716.7,895.7 L719.7,895.6 L722.7,895.6 L725.7,895.5 L728.7,895.4 L731.7,895.4 L734.7,895.3 L737.8,895.3 L740.8,895.2 L743.8,895.2 L746.8,895.1 L749.8,895.1 L752.8,895.0 L755.8,895.0 L758.8,894.9 L761.8,894.9 L764.8,894.8 L767.8,894.8 L770.9,894.8 L773.9,894.7 L776.9,894.7 L779.9,894.6 L782.9,894.6 L785.9,894.6 L788.9,894.5 L791.9,894.5 L794.9,894.5 L797.9,894.4 L801.0,894.4 L804.0,894.4 L807.0,894.3 L810.0,894.3 L813.0,894.3 L816.0,894.3 L819.0,894.2 L822.0,894.2 L825.0,894.2 L828.1,894.2 L831.1,894.1 L834.1,894.1 L837.1,894.1 L840.1,894.1 L843.1,894.1 L846.1,894.0 L849.1,894.0 L852.1,894.0 L855.2,894.0 L858.2,894.0 L861.2,894.0 L864.2,893.9 L867.2,893.9 L870.2,893.9 L873.2,893.9 L876.2,893.9 L879.3,893.9 L882.3,893.9 L885.3,893.8 L888.3,893.8 L891.3,893.8 L894.3,893.8 L897.3,893.8 L900.3,893.8 L903.3,893.8 L906.4,893.8 L909.4,893.8 L912.4,893.8 L915.4,893.7 L918.4,893.7 L921.4,893.7 L924.4,893.7 L927.4,893.7 L930.5,893.7 L933.5,893.7 L936.5,893.7 L939.5,893.7 L942.5,893.7 L945.5,893.7 L948.5,893.6 L951.5,893.6 L954.6,893.6 L957.6,893.6 L960.6,893.6 L963.6,893.6 L966.6,893.6 L969.6,893.6 L972.6,893.6 L975.6,893.6 L978.6,893.6 L981.7,893.6 L984.7,893.5 L987.7,893.5 L990.7,893.5 L993.7,893.5 L996.7,893.5 L999.7,893.5 L1002.7,893.5 L1005.8,893.5 L1008.8,893.5 L1011.8,893.4 L1014.8,893.4 L1017.8,893.4 L1020.8,893.4 L1023.8,893.4 L1026.8,893.4 L1029.8,893.4 L1032.9,893.3 L1035.9,893.3 L1038.9,893.3 L1041.9,893.3 L1044.9,893.3 L1047.9,893.3 L1050.9,893.2 L1053.9,893.2 L1056.9,893.2 L1060.0,893.2 L1063.0,893.2 L1066.0,893.2 L1069.0,893.1 L1072.0,893.1 L1075.0,893.1 L1078.0,893.1 L1081.0,893.1 L1084.0,893.0 L1087.1,893.0 L1090.1,893.0 L1093.1,893.0 L1096.1,893.0 L1099.1,892.9 L1102.1,892.9 L1105.1,892.9 L1108.1,892.9 L1111.1,892.9 L1114.1,892.8 L1117.2,892.8 L1120.2,892.8 L1123.2,892.8 L1126.2,892.7 L1129.2,892.7 L1132.2,892.7 L1135.2,892.7 L1138.2,892.6 L1141.2,892.6 L1144.2,892.6 L1147.3,892.6 L1150.3,892.5 L1153.3,892.5 L1156.3,892.5 L1159.3,892.5 L1162.3,892.4 L1165.3,892.4 L1168.3,892.4 L1171.3,892.3 L1174.3,892.3 L1177.4,892.3 L1180.4,892.3 L1183.4,892.2 L1186.4,892.2 L1189.4,892.2 L1192.4,892.1 L1195.4,892.1 L1198.4,892.1 L1201.4,892.1 L1204.4,892.0 L1207.4,892.0 L1210.5,892.0 L1213.5,891.9 L1216.5,891.9 L1219.5,891.9 L1222.5,891.8 L1225.5,891.8 L1228.5,891.8 L1231.5,891.7 L1234.5,891.7 L1237.5,891.7 L1240.6,891.7 L1243.6,891.6 L1246.6,891.6 L1249.6,891.6 L1252.6,891.5 L1255.6,891.5 L1258.6,891.5 L1261.6,891.4 L1264.6,891.4 L1267.6,891.3 L1270.6,891.3 L1273.7,891.3 L1276.7,891.2 L1279.7,891.2 L1282.7,891.2 L1285.7,891.1 L1288.7,891.1 L1291.7,891.1 L1294.7,891.0 L1297.7,891.0 L1300.7,891.0 L1303.7,890.9 L1306.7,890.9 L1309.8,890.8 L1312.8,890.8 L1315.8,890.8 L1318.8,890.7 L1321.8,890.7 L1324.8,890.7 L1327.8,890.6 L1330.8,890.6 L1333.8,890.5 L1336.8,890.5 L1339.8,890.5 L1342.9,890.4 L1345.9,890.4 L1348.9,890.4 L1351.9,890.3 L1354.9,890.3 L1357.9,890.2 L1360.9,890.2 L1363.9,890.2 L1366.9,890.1 L1369.9,890.1 L1372.9,890.0 L1375.9,890.0 L1379.0,890.0 L1382.0,889.9 L1385.0,889.9 L1388.0,889.8 L1391.0,889.8 L1394.0,889.8 L1397.0,889.7 L1400.0,889.7 L1403.0,889.6 L1406.0,889.6 L1409.0,889.6 L1412.0,889.5 L1415.1,889.5 L1418.1,889.4 L1421.1,889.4 L1424.1,889.4 L1427.1,889.3 L1430.1,889.3 L1433.1,889.2 L1436.1,889.2 L1439.1,889.1 L1442.1,889.1 L1445.1,889.1 L1448.1,889.0 L1451.2,889.0 L1454.2,888.9 L1457.2,888.9 L1460.2,888.8 L1463.2,888.8 L1466.2,888.8 L1469.2,888.7 L1472.2,888.7 L1475.2,888.6 L1478.2,888.6 L1481.2,888.5 L1484.2,888.5 L1487.3,888.5 L1490.3,888.4 L1493.3,888.4 L1496.3,888.3 L1499.3,888.3 L1502.3,888.2 L1505.3,888.2 L1508.3,888.2 L1511.3,888.1 L1514.3,888.1 L1517.3,888.0 L1520.3,888.0 L1523.3,887.9 L1526.4,887.9 L1529.4,887.9 L1532.4,887.8 L1535.4,887.8 L1538.4,887.7 L1541.4,887.7 L1544.4,887.6 L1547.4,887.6 L1550.4,887.6 L1553.4,887.5 L1556.4,887.5 L1559.4,887.4 L1562.5,887.4 L1565.5,887.3 L1568.5,887.3 L1571.5,887.2 L1574.5,887.2 L1577.5,887.2 L1580.5,887.1 L1583.5,887.1 L1586.5,887.0 L1589.5,887.0 L1592.5,886.9 L1595.5,886.9 L1598.5,886.9 L1601.6,886.8 L1604.6,886.8 L1607.6,886.7 L1610.6,886.7 L1613.6,886.6 L1616.6,886.6 L1619.6,886.5 L1622.6,886.5 L1625.6,886.5 L1628.6,886.4 L1631.6,886.4 L1634.6,886.3 L1637.7,886.3 L1640.7,886.2 L1643.7,886.2 L1646.7,886.2 L1649.7,886.1 L1652.7,886.1 L1655.7,886.0 L1658.7,886.0 L1661.7,885.9 L1664.7,885.9 L1667.7,885.9 L1670.7,885.8 L1673.8,885.8 L1676.8,885.7 L1679.8,885.7 L1682.8,885.6 L1685.8,885.6 L1688.8,885.6 L1691.8,885.5 L1694.8,885.5 L1697.8,885.4 L1700.8,885.4 L1703.8,885.3 L1706.8,885.3 L1709.9,885.3 L1712.9,885.2 L1715.9,885.2 L1718.9,885.1 L1721.9,885.1 L1724.9,885.1 L1727.9,885.0 L1730.9,885.0 L1733.9,884.9 L1736.9,884.9 L1739.9,884.8 L1742.9,884.8 L1746.0,884.8 L1749.0,884.7 L1752.0,884.7 L1755.0,884.6 L1758.0,884.6 L1761.0,884.6 L1764.0,884.5 L1767.0,884.5 L1770.0,884.4 L1773.0,884.4 L1776.0,884.4 L1779.0,884.3 L1782.1,884.3 L1785.1,884.2 L1788.1,884.2 L1791.1,884.2 L1794.1,884.1 L1797.1,884.1 L1800.1,884.0 L1803.1,884.0 L1806.1,884.0 L1809.1,883.9 L1812.1,883.9 L1815.2,883.9 L1818.2,883.8 L1821.2,883.8 L1824.2,883.7 L1827.2,883.7 L1830.2,883.7 L1833.2,883.6 L1836.2,883.6 L1839.2,883.6 L1842.2,883.5 L1845.2,883.5 L1848.3,883.4 L1851.3,883.4 L1854.3,883.4 L1857.3,883.3 L1860.3,883.3 L1863.3,883.3 L1866.3,883.2 L1869.3,883.2 L1872.3,883.2 L1875.3,883.1 L1878.3,883.1 L1881.4,883.1 L1884.4,883.0 L1887.4,883.0 L1890.4,882.9 L1893.4,882.9 L1896.4,882.9 L1899.4,882.8 L1902.4,882.8 L1905.4,882.8 L1908.4,882.7 L1911.5,882.7 L1914.5,882.7 L1917.5,882.7 L1920.5,882.6 L1923.5,882.6 L1926.5,882.6 L1929.5,882.5 L1932.5,882.5 L1935.5,882.5 L1938.5,882.4 L1941.5,882.4 L1944.6,882.4 L1947.6,882.3 L1950.6,882.3 L1953.6,882.3 L1956.6,882.2 L1959.6,882.2 L1962.6,882.2 L1965.6,882.2 L1968.6,882.1 L1971.6,882.1 L1974.7,882.1 L1977.7,882.0 L1980.7,882.0 L1983.7,882.0 L1986.7,882.0 L1989.7,881.9 L1992.7,881.9 L1995.7,881.9 L1998.7,881.9 L2001.8,881.8 L2004.8,881.8 L2007.8,881.8 L2010.8,881.8 L2013.8,881.7 L2016.8,881.7 L2019.8,881.7 L2022.8,881.7 L2025.8,881.6 L2028.8,881.6 L2031.9,881.6 L2034.9,881.6 L2037.9,881.5 L2040.9,881.5 L2043.9,881.5 L2046.9,881.5 L2049.9,881.5 L2052.9,881.4 L2055.9,881.4 L2059.0,881.4 L2062.0,881.4 L2065.0,881.3 L2068.0,881.3 L2071.0,881.3" fill="none" stroke="#000000" stroke-width="17.5" stroke-linecap="round" stroke-linejoin="round"/>
</g>
<text x="144.3" y="103.8" font-family="Liberation Serif, Times New Roman, serif" font-weight="bold" font-size="72" fill="#000">1.5</text>
<text x="178.3" y="380.2" font-family="Liberation Serif, Times New Roman, serif" font-weight="bold" font-size="72" fill="#000">1</text>
<text x="143.5" y="652.7" font-family="Liberation Serif, Times New Roman, serif" font-weight="bold" font-size="72" fill="#000">0.5</text>
<text x="179.0" y="930.5" font-family="Liberation Serif, Times New Roman, serif" font-weight="bold" font-size="72" fill="#000">0</text>
<text x="102.2" y="1209.7" font-family="Liberation Serif, Times New Roman, serif" font-weight="bold" font-size="72" fill="#000">&#8722;0.5</text>
<text x="135.1" y="1480.7" font-family="Liberation Serif, Times New Roman, serif" font-weight="bold" font-size="72" fill="#000">&#8722;1</text>
<text x="216.4" y="1564.2" font-family="Liberation Serif, Times New Roman, serif" font-weight="bold" font-size="72" fill="#000">&#8722;0.8</text>
<text x="509.9" y="1564.2" font-family="Liberation Serif, Times New Roman, serif" font-weight="bold" font-size="72" fill="#000">&#8722;0.5</text>
<text x="803.5" y="1566.3" font-family="Liberation Serif, Times New Roman, serif" font-weight="bold" font-size="72" fill="#000">&#8722;0.2</text>
<text x="1142.4" y="1566.4" font-family="Liberation Serif, Times New Roman, serif" font-weight="bold" font-size="72" fill="#000">0.1</text>
<text x="1438.0" y="1569.2" font-family="Liberation Serif, Times New Roman, serif" font-weight="bold" font-size="72" fill="#000">0.4</text>
<text x="1743.8" y="1569.3" font-family="Liberation Serif, Times New Roman, serif" font-weight="bold" font-size="72" fill="#000">0.7</text>
<text x="2062.1" y="1564.0" font-family="Liberation Serif, Times New Roman, serif" font-weight="bold" font-size="72" fill="#000">1</text>
<text x="494" y="1669.6" font-family="Liberation Sans, Arial, sans-serif" font-weight="bold" font-size="82" textLength="1284" lengthAdjust="spacingAndGlyphs">Potential (V vs saturated AgCl/Ag)</text>
<text transform="translate(95.8,988) rotate(-90)" font-family="Liberation Sans, Arial, sans-serif" font-weight="bold" font-size="82" textLength="421" lengthAdjust="spacingAndGlyphs">i (mA.cm<tspan dy="-30" font-size="52">-2</tspan><tspan dy="30">)</tspan></text>
<line x1="386.7" y1="220.7" x2="555.8" y2="220.7" stroke="#EC2F03" stroke-width="12"/>
<text x="595.9" y="241.6" font-family="Liberation Sans, Arial, sans-serif" font-weight="bold" font-size="62" fill="#DE0000">8 %</text>
<line x1="381.9" y1="317.0" x2="551.7" y2="317.0" stroke="#00B04C" stroke-width="12"/>
<text x="594.4" y="338.3" font-family="Liberation Sans, Arial, sans-serif" font-weight="bold" font-size="62" fill="#00B04C">6 %</text>
<line x1="379.0" y1="412.9" x2="548.5" y2="412.9" stroke="#A449CF" stroke-width="12"/>
<text x="592.3" y="436.3" font-family="Liberation Sans, Arial, sans-serif" font-weight="bold" font-size="62" fill="#A449CF">4 %</text>
<line x1="379.0" y1="509.0" x2="548.5" y2="509.0" stroke="#000000" stroke-width="12"/>
<text x="592.3" y="533.0" font-family="Liberation Sans, Arial, sans-serif" font-weight="bold" font-size="62" fill="#000000">2 %</text>
</svg>
</body></html>
